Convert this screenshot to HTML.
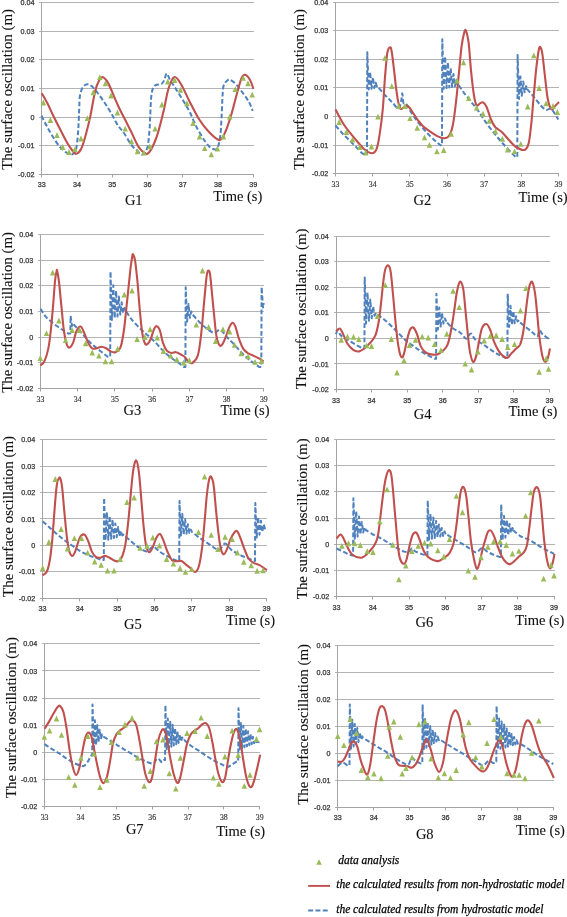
<!DOCTYPE html>
<html><head><meta charset="utf-8"><style>
html,body{margin:0;padding:0;background:#fff;width:567px;height:917px;overflow:hidden}
svg{display:block;will-change:transform;filter:blur(0.35px)}
.tk{font-family:"Liberation Sans",sans-serif;font-size:7.2px;fill:#333;stroke:#333;stroke-width:0.25px}
.tks{font-family:"Liberation Serif",serif;font-size:7.8px;fill:#333;stroke:#333;stroke-width:0.15px}
.yl{font-family:"Liberation Serif",serif;font-size:14.9px;fill:#111;stroke:#111;stroke-width:0.1px}
.gl{font-family:"Liberation Serif",serif;font-size:14.5px;fill:#111;stroke:#111;stroke-width:0.1px}
.lg{font-family:"Liberation Serif",serif;font-style:italic;font-size:11.5px;fill:#000;stroke:#000;stroke-width:0.25px}
</style></head><body>
<svg width="567" height="917" viewBox="0 0 567 917">
<line x1="39" y1="2.5" x2="254" y2="2.5" stroke="#b3b3b3" stroke-width="1"/>
<text x="34.5" y="5.1" class="tk" text-anchor="end">0.04</text>
<line x1="39" y1="31.5" x2="254" y2="31.5" stroke="#b3b3b3" stroke-width="1"/>
<text x="34.5" y="33.7" class="tk" text-anchor="end">0.03</text>
<line x1="39" y1="59.5" x2="254" y2="59.5" stroke="#b3b3b3" stroke-width="1"/>
<text x="34.5" y="62.4" class="tk" text-anchor="end">0.02</text>
<line x1="39" y1="88.5" x2="254" y2="88.5" stroke="#b3b3b3" stroke-width="1"/>
<text x="34.5" y="91" class="tk" text-anchor="end">0.01</text>
<line x1="39" y1="117.5" x2="254" y2="117.5" stroke="#b3b3b3" stroke-width="1"/>
<text x="34.5" y="119.6" class="tk" text-anchor="end">0</text>
<line x1="39" y1="145.5" x2="254" y2="145.5" stroke="#b3b3b3" stroke-width="1"/>
<text x="34.5" y="148.3" class="tk" text-anchor="end">-0.01</text>
<line x1="39" y1="174.5" x2="254" y2="174.5" stroke="#a3a3a3" stroke-width="1"/>
<text x="34.5" y="176.9" class="tk" text-anchor="end">-0.02</text>
<line x1="41.5" y1="2.5" x2="41.5" y2="177" stroke="#a3a3a3" stroke-width="1"/>
<line x1="41.5" y1="174.5" x2="41.5" y2="177.5" stroke="#a3a3a3" stroke-width="1"/>
<text x="41.8" y="187.3" class="tk" text-anchor="middle">33</text>
<line x1="77.5" y1="174.5" x2="77.5" y2="177.5" stroke="#a3a3a3" stroke-width="1"/>
<text x="77" y="187.3" class="tk" text-anchor="middle">34</text>
<line x1="112.5" y1="174.5" x2="112.5" y2="177.5" stroke="#a3a3a3" stroke-width="1"/>
<text x="112.3" y="187.3" class="tk" text-anchor="middle">35</text>
<line x1="147.5" y1="174.5" x2="147.5" y2="177.5" stroke="#a3a3a3" stroke-width="1"/>
<text x="147.5" y="187.3" class="tk" text-anchor="middle">36</text>
<line x1="182.5" y1="174.5" x2="182.5" y2="177.5" stroke="#a3a3a3" stroke-width="1"/>
<text x="182.7" y="187.3" class="tk" text-anchor="middle">37</text>
<line x1="217.5" y1="174.5" x2="217.5" y2="177.5" stroke="#a3a3a3" stroke-width="1"/>
<text x="218" y="187.3" class="tk" text-anchor="middle">38</text>
<line x1="253.5" y1="174.5" x2="253.5" y2="177.5" stroke="#a3a3a3" stroke-width="1"/>
<text x="253.2" y="187.3" class="tk" text-anchor="middle">39</text>
<text class="yl" transform="translate(11.8,169.8) rotate(-90)">The surface oscillation (m)</text>
<text class="gl" x="124.9" y="204.9">G1</text>
<path d="M41.5,115.7 C42.3,117.3 44.7,122.3 46.5,125.6 C48.3,128.9 50,132.1 52.1,135.5 C54.2,138.9 56.9,143.3 59.2,146.1 C61.6,148.9 64.1,151 66.2,152.4 C68.3,153.8 70.2,155.1 71.9,154.5 C73.6,153.9 75,152.9 76.1,148.9 C77.1,144.9 77.7,137.1 78.2,130.5 C78.7,123.9 78.9,115.3 79.2,109.4 C79.5,103.5 79.3,99.1 80,95.3 C80.7,91.5 81.9,88.6 83.1,86.8 C84.3,85 86,84.4 87.4,84.3 C88.8,84.2 89.9,84.7 91.6,86.1 C93.2,87.5 95.2,89.8 97.3,92.5 C99.4,95.2 101.9,98.8 104.3,102.3 C106.7,105.8 109.1,109.7 111.4,113.6 C113.7,117.5 115.9,122.4 118,125.6 C120.1,128.8 121.8,129.8 124,133 C126.2,136.2 129,141.8 131.2,144.7 C133.4,147.6 135.1,148.9 137,150.5 C138.9,152.1 140.8,155 142.5,154.5 C144.2,154 146.2,151.6 147.4,147.5 C148.6,143.4 149,135.2 149.5,130 C150,124.8 149.8,122.4 150.2,116.4 C150.5,110.4 150.8,99.1 151.6,93.9 C152.4,88.7 153.4,87.1 155.1,85.4 C156.8,83.8 160,84.9 161.5,84 C163,83.1 163.4,81.6 164.3,79.8 C165.2,78 165.8,73.4 166.7,73.4 C167.6,73.4 168.4,77.1 170,79.8 C171.6,82.5 174.1,86.1 176.3,89.6 C178.5,93.1 181.1,97.1 183.4,100.9 C185.7,104.7 187.8,108 190,112.5 C192.2,117 194.3,122.8 196.9,127.7 C199.5,132.6 203.1,138.5 205.4,141.8 C207.8,145.2 209.1,146.7 211,147.8 C212.9,148.9 215.5,150.5 217,148.6 C218.5,146.7 219.4,141.6 220.2,136.2 C221,130.8 221.2,123.2 221.6,116.4 C222,109.6 222.2,100.5 222.6,95.3 C222.9,90.1 222.9,87.9 223.7,85.4 C224.5,82.9 226.2,81.4 227.3,80.5 C228.4,79.6 228.6,79.1 230.1,79.8 C231.6,80.5 234.2,82.3 236.4,84.7 C238.6,87.1 241.4,91 243.5,93.9 C245.6,96.8 247.6,99.5 249.1,102.3 C250.6,105.1 252.1,109.4 252.7,110.8" fill="none" stroke="#4F81BD" stroke-width="2" stroke-dasharray="4.8,2.4" stroke-linejoin="round"/>
<path d="M41.8,93.2 C42.7,94.8 45.4,99.4 47.3,103 C49.1,106.6 50.8,110.7 52.9,115 C55,119.3 57.6,124.5 60,129.1 C62.4,133.7 64.9,138.8 67,142.5 C69.1,146.2 71.2,149.1 72.7,151 C74.2,152.9 74.8,154.2 76.2,153.8 C77.6,153.5 79.6,151.8 81.1,148.9 C82.6,146 83.9,141.6 85.4,136.2 C86.9,130.8 88.7,123.9 90.3,116.4 C91.9,108.9 93.7,97.1 95.2,91 C96.7,84.9 98.2,82.1 99.5,79.8 C100.8,77.5 101.6,76.7 103,77.2 C104.4,77.7 106.1,79.6 107.9,82.6 C109.7,85.6 111.8,91.2 113.6,95.3 C115.4,99.4 116.9,103.3 118.8,107.3 C120.7,111.3 122.7,114.9 124.9,119.3 C127.1,123.7 129.7,128.7 132,133.4 C134.3,138.1 136.4,144.1 139,147.5 C141.6,150.9 144.7,155.2 147.5,153.8 C150.3,152.4 153.3,145.7 155.9,139 C158.5,132.3 160.9,122.1 163,113.6 C165.1,105.1 166.7,94.3 168.6,88.2 C170.5,82.1 172.5,77.6 174.6,77 C176.7,76.4 178.9,80.7 181.3,84.7 C183.8,88.7 186.3,95.1 189.3,100.9 C192.3,106.7 195.8,114.1 199.1,119.3 C202.4,124.5 205.6,128.5 209,132 C212.4,135.5 216.8,140.3 219.6,140.1 C222.4,139.8 223.9,134.9 225.9,130.5 C227.9,126.1 229.7,119.9 231.6,113.6 C233.5,107.3 235.6,98.4 237.2,92.5 C238.9,86.6 240.2,81.2 241.5,78.3 C242.8,75.3 243.6,74.5 245,74.8 C246.4,75 248.5,77.4 249.9,79.8 C251.3,82.2 252.9,87.4 253.5,88.9" fill="none" stroke="#C0504D" stroke-width="2.1" stroke-linejoin="round"/>
<path d="M43.4,99.6 l2.75,5.9 h-5.5z" fill="#9BBB59"/>
<path d="M50.4,117 l2.75,5.9 h-5.5z" fill="#9BBB59"/>
<path d="M57,132.1 l2.75,5.9 h-5.5z" fill="#9BBB59"/>
<path d="M62.7,144.1 l2.75,5.9 h-5.5z" fill="#9BBB59"/>
<path d="M69,149 l2.75,5.9 h-5.5z" fill="#9BBB59"/>
<path d="M75,146.2 l2.75,5.9 h-5.5z" fill="#9BBB59"/>
<path d="M81,135.6 l2.75,5.9 h-5.5z" fill="#9BBB59"/>
<path d="M87.4,115.2 l2.75,5.9 h-5.5z" fill="#9BBB59"/>
<path d="M93.3,89.3 l2.75,5.9 h-5.5z" fill="#9BBB59"/>
<path d="M99.8,74.2 l2.75,5.9 h-5.5z" fill="#9BBB59"/>
<path d="M105.4,80.3 l2.75,5.9 h-5.5z" fill="#9BBB59"/>
<path d="M111.1,92.6 l2.75,5.9 h-5.5z" fill="#9BBB59"/>
<path d="M117.4,109.5 l2.75,5.9 h-5.5z" fill="#9BBB59"/>
<path d="M125.2,125.7 l2.75,5.9 h-5.5z" fill="#9BBB59"/>
<path d="M131.4,138.4 l2.75,5.9 h-5.5z" fill="#9BBB59"/>
<path d="M137.5,148.3 l2.75,5.9 h-5.5z" fill="#9BBB59"/>
<path d="M143.9,149.7 l2.75,5.9 h-5.5z" fill="#9BBB59"/>
<path d="M149.8,143.4 l2.75,5.9 h-5.5z" fill="#9BBB59"/>
<path d="M155.1,125.7 l2.75,5.9 h-5.5z" fill="#9BBB59"/>
<path d="M161.9,101.5 l2.75,5.9 h-5.5z" fill="#9BBB59"/>
<path d="M167.8,78.5 l2.75,5.9 h-5.5z" fill="#9BBB59"/>
<path d="M174.6,77.1 l2.75,5.9 h-5.5z" fill="#9BBB59"/>
<path d="M180.5,86.9 l2.75,5.9 h-5.5z" fill="#9BBB59"/>
<path d="M186.9,100.3 l2.75,5.9 h-5.5z" fill="#9BBB59"/>
<path d="M193,120.1 l2.75,5.9 h-5.5z" fill="#9BBB59"/>
<path d="M199.5,133.5 l2.75,5.9 h-5.5z" fill="#9BBB59"/>
<path d="M204.7,145.2 l2.75,5.9 h-5.5z" fill="#9BBB59"/>
<path d="M211.3,151.4 l2.75,5.9 h-5.5z" fill="#9BBB59"/>
<path d="M217.4,145.5 l2.75,5.9 h-5.5z" fill="#9BBB59"/>
<path d="M223.5,133.5 l2.75,5.9 h-5.5z" fill="#9BBB59"/>
<path d="M229.7,113.7 l2.75,5.9 h-5.5z" fill="#9BBB59"/>
<path d="M235.3,86.2 l2.75,5.9 h-5.5z" fill="#9BBB59"/>
<path d="M243.2,74.9 l2.75,5.9 h-5.5z" fill="#9BBB59"/>
<path d="M248,80.3 l2.75,5.9 h-5.5z" fill="#9BBB59"/>
<path d="M252.2,91.6 l2.75,5.9 h-5.5z" fill="#9BBB59"/>
<line x1="333" y1="2.5" x2="559" y2="2.5" stroke="#b3b3b3" stroke-width="1"/>
<text x="328.2" y="4.6" class="tk" text-anchor="end">0.04</text>
<line x1="333" y1="30.5" x2="559" y2="30.5" stroke="#b3b3b3" stroke-width="1"/>
<text x="328.2" y="33.2" class="tk" text-anchor="end">0.03</text>
<line x1="333" y1="59.5" x2="559" y2="59.5" stroke="#b3b3b3" stroke-width="1"/>
<text x="328.2" y="61.8" class="tk" text-anchor="end">0.02</text>
<line x1="333" y1="87.5" x2="559" y2="87.5" stroke="#b3b3b3" stroke-width="1"/>
<text x="328.2" y="90.4" class="tk" text-anchor="end">0.01</text>
<line x1="333" y1="116.5" x2="559" y2="116.5" stroke="#b3b3b3" stroke-width="1"/>
<text x="328.2" y="119" class="tk" text-anchor="end">0</text>
<line x1="333" y1="145.5" x2="559" y2="145.5" stroke="#b3b3b3" stroke-width="1"/>
<text x="328.2" y="147.6" class="tk" text-anchor="end">-0.01</text>
<line x1="333" y1="173.5" x2="559" y2="173.5" stroke="#a3a3a3" stroke-width="1"/>
<text x="328.2" y="176.2" class="tk" text-anchor="end">-0.02</text>
<line x1="335.5" y1="2.5" x2="335.5" y2="176" stroke="#a3a3a3" stroke-width="1"/>
<line x1="335.5" y1="173.5" x2="335.5" y2="176.5" stroke="#a3a3a3" stroke-width="1"/>
<text x="335.5" y="186.5" class="tks" text-anchor="middle">33</text>
<line x1="372.5" y1="173.5" x2="372.5" y2="176.5" stroke="#a3a3a3" stroke-width="1"/>
<text x="372.7" y="186.5" class="tks" text-anchor="middle">34</text>
<line x1="409.5" y1="173.5" x2="409.5" y2="176.5" stroke="#a3a3a3" stroke-width="1"/>
<text x="409.8" y="186.5" class="tks" text-anchor="middle">35</text>
<line x1="447.5" y1="173.5" x2="447.5" y2="176.5" stroke="#a3a3a3" stroke-width="1"/>
<text x="447" y="186.5" class="tks" text-anchor="middle">36</text>
<line x1="484.5" y1="173.5" x2="484.5" y2="176.5" stroke="#a3a3a3" stroke-width="1"/>
<text x="484.2" y="186.5" class="tks" text-anchor="middle">37</text>
<line x1="521.5" y1="173.5" x2="521.5" y2="176.5" stroke="#a3a3a3" stroke-width="1"/>
<text x="521.3" y="186.5" class="tks" text-anchor="middle">38</text>
<line x1="558.5" y1="173.5" x2="558.5" y2="176.5" stroke="#a3a3a3" stroke-width="1"/>
<text x="558.5" y="186.5" class="tks" text-anchor="middle">39</text>
<text class="yl" transform="translate(303.6,169.8) rotate(-90)">The surface oscillation (m)</text>
<text class="gl" x="413.5" y="204.9">G2</text>
<text class="gl" x="518.6" y="201.9">Time (s)</text>
<path d="M335.5,125.5 C336.6,126.8 340.1,130.8 342.2,133.1 C344.3,135.4 346,136.9 348.3,139.2 C350.6,141.5 353.5,144.5 355.9,146.9 C358.3,149.3 361.1,152.6 362.8,153.7 C364.5,154.8 365.3,153.7 365.8,153.7 L367,153.7 L367.3,52.2 L368.7,89.5 L370.1,71.9 L371.5,88.8 L372.9,77.3 L374.3,88 L375.7,82.6 L377.1,87.2 L378,87 C379.4,88.6 384,93.9 386.4,96.5 C388.8,99.1 390.5,100.6 392.5,102.6 C394.5,104.6 397.1,109.1 398.6,108.7 C400.1,108.3 400.7,102.5 401.3,100 C401.9,97.5 401.9,92.9 402.3,93.4 C402.7,93.9 402.8,101.2 403.5,103 C404.2,104.8 405.2,102.8 406.3,104.1 C407.4,105.4 408.4,107.9 410.2,110.8 C412,113.7 414.6,117.7 417.2,121.2 C419.8,124.7 423,128.5 425.9,131.7 C428.8,134.9 432.3,138.1 434.7,140.4 C437.1,142.7 439.5,144.5 440.5,145.3 L442,145.3 L442.3,39.2 L443.7,88.7 L445.1,56.5 L446.5,88.1 L447.9,62.3 L449.3,87.5 L450.7,68.2 L452.1,86.9 L453.5,74 L454.9,86.3 L456.3,79.9 L457.7,85.8 L459,85.5 C459.9,86.8 462.2,90.5 464.3,93.3 C466.4,96 469,99.1 471.3,102 C473.6,104.9 476,107.6 478.3,110.8 C480.6,114 482.4,117.6 485,121.2 C487.6,124.8 490.8,129 493.7,132.6 C496.6,136.2 499.5,139.7 502.4,143 C505.3,146.3 509,150.3 511.2,152.6 C513.4,154.9 515,156.3 515.8,157 L517.3,157 L517.6,54.9 L519,99 L520.4,76.4 L521.8,95.7 L523.2,81.4 L524.6,92.3 L526,86.3 L527.4,89 L527.5,88.9 L526.9,88.9 C528,90.2 531.5,94 533.8,96.8 C536.1,99.6 538.8,103.3 540.8,105.5 C542.8,107.7 544.4,109.3 546.1,109.9 C547.9,110.5 549.3,107.4 551.3,109 C553.3,110.6 557.1,117.8 558.3,119.5" fill="none" stroke="#4F81BD" stroke-width="2" stroke-dasharray="4.8,2.4" stroke-linejoin="round"/>
<path d="M335.5,109.5 C336.8,111.8 340.7,119.5 343,123.2 C345.3,126.9 346.8,128.7 349.1,131.6 C351.4,134.5 354.2,137.9 356.7,140.8 C359.2,143.7 361.8,147.1 364.3,149.2 C366.9,151.3 370,153.3 372,153.3 C374,153.3 375.2,152.3 376.5,149.2 C377.8,146.1 378.6,141.2 379.6,134.7 C380.6,128.2 381.8,119.6 382.7,110.2 C383.6,100.8 384.2,87.6 384.9,78.2 C385.7,68.8 386.4,58.9 387.2,53.7 C388,48.6 389.2,47.5 390,47.3 C390.8,47 391.1,48.3 391.8,52.2 C392.5,56.1 393.3,64.1 394.1,70.5 C394.9,76.9 395.6,84.8 396.4,90.4 C397.2,96 397.9,101 398.7,104.1 C399.5,107.2 400.1,108.5 401,109 C401.9,109.5 403,107.8 404,107.2 C405,106.6 405.9,105.5 406.8,105.5 C407.7,105.5 408.3,106.3 409.3,107.5 C410.3,108.7 411.4,110.4 412.8,112.5 C414.2,114.6 416.2,118 418,120.3 C419.8,122.6 421.3,124.6 423.3,126.5 C425.3,128.4 427.9,130.1 430.2,131.7 C432.5,133.3 434.9,135 437.2,136.1 C439.5,137.2 442.2,138.5 444.2,138.3 C446.2,138.2 448,137.5 449.4,135.2 C450.9,132.9 451.7,130.8 452.9,124.7 C454.1,118.6 455.4,107.2 456.4,98.5 C457.4,89.8 458.1,81.1 459,72.4 C459.9,63.7 460.7,52.9 461.6,46.2 C462.5,39.5 463.6,34.8 464.3,32.2 C465,29.6 465.3,29.1 466,30.8 C466.7,32.5 467.7,35.8 468.6,42.7 C469.5,49.6 470.3,63.7 471.2,72.4 C472.1,81.1 473,89.5 473.9,95 C474.8,100.5 475.5,103.8 476.5,105.2 C477.5,106.6 478.9,103.9 480,103.4 C481.1,102.9 482.1,101.8 483.2,102.4 C484.3,103.1 485.4,104.5 486.7,107.3 C488,110.1 489.6,116.2 491,119.5 C492.4,122.8 493.7,125.3 495.4,127.3 C497.2,129.3 499.3,129.7 501.5,131.7 C503.7,133.7 506.2,137 508.5,139.5 C510.8,142 512.8,144.8 515.4,146.5 C518,148.2 522,150.4 524.2,150 C526.4,149.6 527.3,148.1 528.5,143.9 C529.7,139.7 530.3,132.8 531.2,124.7 C532.1,116.5 532.9,104.6 533.8,95 C534.7,85.4 535.5,74.8 536.4,67.1 C537.3,59.4 538.3,52 539,48.8 C539.7,45.6 540.2,46.9 540.8,47.9 C541.4,48.9 541.8,50 542.5,54.9 C543.2,59.8 544.2,70.3 545.1,77.6 C546,84.9 546.7,93.3 547.7,98.5 C548.7,103.7 550,107.7 551.2,109 C552.4,110.3 553.4,107.6 554.7,106.4 C556,105.2 558.3,102.7 559,102" fill="none" stroke="#C0504D" stroke-width="2.1" stroke-linejoin="round"/>
<path d="M339.1,119 l2.75,5.9 h-5.5z" fill="#9BBB59"/>
<path d="M346.4,129 l2.75,5.9 h-5.5z" fill="#9BBB59"/>
<path d="M352.5,136.6 l2.75,5.9 h-5.5z" fill="#9BBB59"/>
<path d="M359.7,144.2 l2.75,5.9 h-5.5z" fill="#9BBB59"/>
<path d="M365.8,149.6 l2.75,5.9 h-5.5z" fill="#9BBB59"/>
<path d="M371.5,143.5 l2.75,5.9 h-5.5z" fill="#9BBB59"/>
<path d="M378,113.7 l2.75,5.9 h-5.5z" fill="#9BBB59"/>
<path d="M384.9,54.9 l2.75,5.9 h-5.5z" fill="#9BBB59"/>
<path d="M391.8,83.2 l2.75,5.9 h-5.5z" fill="#9BBB59"/>
<path d="M398.6,103 l2.75,5.9 h-5.5z" fill="#9BBB59"/>
<path d="M404.8,103 l2.75,5.9 h-5.5z" fill="#9BBB59"/>
<path d="M410.1,115.2 l2.75,5.9 h-5.5z" fill="#9BBB59"/>
<path d="M417.2,124.8 l2.75,5.9 h-5.5z" fill="#9BBB59"/>
<path d="M424.5,134.4 l2.75,5.9 h-5.5z" fill="#9BBB59"/>
<path d="M429.4,141.9 l2.75,5.9 h-5.5z" fill="#9BBB59"/>
<path d="M436.9,148.4 l2.75,5.9 h-5.5z" fill="#9BBB59"/>
<path d="M443.7,147.1 l2.75,5.9 h-5.5z" fill="#9BBB59"/>
<path d="M451.2,130.9 l2.75,5.9 h-5.5z" fill="#9BBB59"/>
<path d="M457,77.7 l2.75,5.9 h-5.5z" fill="#9BBB59"/>
<path d="M463.5,59.4 l2.75,5.9 h-5.5z" fill="#9BBB59"/>
<path d="M468.7,95.1 l2.75,5.9 h-5.5z" fill="#9BBB59"/>
<path d="M476.6,104.7 l2.75,5.9 h-5.5z" fill="#9BBB59"/>
<path d="M483,110.8 l2.75,5.9 h-5.5z" fill="#9BBB59"/>
<path d="M489.3,117.8 l2.75,5.9 h-5.5z" fill="#9BBB59"/>
<path d="M495.5,128.3 l2.75,5.9 h-5.5z" fill="#9BBB59"/>
<path d="M502.4,135.8 l2.75,5.9 h-5.5z" fill="#9BBB59"/>
<path d="M507.7,146.6 l2.75,5.9 h-5.5z" fill="#9BBB59"/>
<path d="M514.6,148.4 l2.75,5.9 h-5.5z" fill="#9BBB59"/>
<path d="M520.8,140.9 l2.75,5.9 h-5.5z" fill="#9BBB59"/>
<path d="M527.7,103.5 l2.75,5.9 h-5.5z" fill="#9BBB59"/>
<path d="M533.8,52.4 l2.75,5.9 h-5.5z" fill="#9BBB59"/>
<path d="M539.1,85 l2.75,5.9 h-5.5z" fill="#9BBB59"/>
<path d="M546.1,100.4 l2.75,5.9 h-5.5z" fill="#9BBB59"/>
<path d="M553,103 l2.75,5.9 h-5.5z" fill="#9BBB59"/>
<path d="M557.4,109.1 l2.75,5.9 h-5.5z" fill="#9BBB59"/>
<line x1="38" y1="234.5" x2="264" y2="234.5" stroke="#b3b3b3" stroke-width="1"/>
<text x="33.2" y="237" class="tk" text-anchor="end">0.04</text>
<line x1="38" y1="260.5" x2="264" y2="260.5" stroke="#b3b3b3" stroke-width="1"/>
<text x="33.2" y="262.7" class="tk" text-anchor="end">0.03</text>
<line x1="38" y1="285.5" x2="264" y2="285.5" stroke="#b3b3b3" stroke-width="1"/>
<text x="33.2" y="288.3" class="tk" text-anchor="end">0.02</text>
<line x1="38" y1="311.5" x2="264" y2="311.5" stroke="#b3b3b3" stroke-width="1"/>
<text x="33.2" y="314" class="tk" text-anchor="end">0.01</text>
<line x1="38" y1="337.5" x2="264" y2="337.5" stroke="#b3b3b3" stroke-width="1"/>
<text x="33.2" y="339.7" class="tk" text-anchor="end">0</text>
<line x1="38" y1="362.5" x2="264" y2="362.5" stroke="#b3b3b3" stroke-width="1"/>
<text x="33.2" y="365.3" class="tk" text-anchor="end">-0.01</text>
<line x1="38" y1="388.5" x2="264" y2="388.5" stroke="#a3a3a3" stroke-width="1"/>
<text x="33.2" y="391" class="tk" text-anchor="end">-0.02</text>
<line x1="40.5" y1="234.5" x2="40.5" y2="391" stroke="#a3a3a3" stroke-width="1"/>
<line x1="40.5" y1="388.5" x2="40.5" y2="391.5" stroke="#a3a3a3" stroke-width="1"/>
<text x="40.5" y="401.8" class="tks" text-anchor="middle">33</text>
<line x1="77.5" y1="388.5" x2="77.5" y2="391.5" stroke="#a3a3a3" stroke-width="1"/>
<text x="77.7" y="401.8" class="tks" text-anchor="middle">34</text>
<line x1="114.5" y1="388.5" x2="114.5" y2="391.5" stroke="#a3a3a3" stroke-width="1"/>
<text x="114.9" y="401.8" class="tks" text-anchor="middle">35</text>
<line x1="152.5" y1="388.5" x2="152.5" y2="391.5" stroke="#a3a3a3" stroke-width="1"/>
<text x="152.2" y="401.8" class="tks" text-anchor="middle">36</text>
<line x1="189.5" y1="388.5" x2="189.5" y2="391.5" stroke="#a3a3a3" stroke-width="1"/>
<text x="189.4" y="401.8" class="tks" text-anchor="middle">37</text>
<line x1="226.5" y1="388.5" x2="226.5" y2="391.5" stroke="#a3a3a3" stroke-width="1"/>
<text x="226.6" y="401.8" class="tks" text-anchor="middle">38</text>
<line x1="263.5" y1="388.5" x2="263.5" y2="391.5" stroke="#a3a3a3" stroke-width="1"/>
<text x="263.8" y="401.8" class="tks" text-anchor="middle">39</text>
<text class="yl" transform="translate(11.8,392.8) rotate(-90)">The surface oscillation (m)</text>
<text class="gl" x="123.5" y="415.4">G3</text>
<text class="gl" x="220.5" y="415">Time (s)</text>
<path d="M40.5,308.8 C41.4,310.1 43.5,314.1 45.7,316.6 C47.9,319.1 50.9,321.5 53.5,323.6 C56.1,325.7 58.8,327.3 61.2,329 C63.7,330.7 67,332.8 68.2,333.6 L70.3,333.6 L70.6,315.8 L72,326 L73.4,323.2 L74.8,325.9 L75,325.9 C76.3,327.3 80.3,331.6 82.9,334.4 C85.5,337.2 87.8,340.2 90.6,342.9 C93.4,345.6 97.1,348.4 99.9,350.7 C102.8,353 106.4,355.8 107.7,356.8 L110.2,356.8 L110.5,271.4 L111.9,319.9 L113.3,285.3 L114.7,318.2 L116.1,290.9 L117.5,316.4 L118.9,296.6 L120.3,314.6 L121.7,302.3 L123.1,312.8 L124.5,308 L125.9,311.1 L126,311 C126.9,312.3 129,316.2 131.2,318.9 C133.4,321.6 136.4,324.8 139,327.4 C141.6,330 144.1,332.1 146.7,334.4 C149.3,336.7 151.9,338.8 154.5,341.4 C157.1,344 159.6,347.3 162.2,349.9 C164.8,352.5 167.3,354.7 169.9,356.8 C172.5,358.9 175.4,360.6 177.7,362.3 C180,364 182.9,366.1 183.9,366.9 L185.4,366.9 L185.7,287.2 L187.1,321.6 L188.5,304.1 L189.9,317.8 L191.3,311.4 L192.4,314.3 C193.4,315.4 196.3,318.9 198.6,321.2 C200.9,323.5 203.7,326.3 206.3,328.2 C208.9,330.1 211.8,332.6 214.1,332.8 C216.4,333.1 218.2,329.1 220.3,329.7 C222.4,330.3 224.2,334.2 226.5,336.7 C228.8,339.2 231.6,341.8 234.2,344.5 C236.8,347.2 239.3,350.4 241.9,353 C244.5,355.6 246.8,357.7 249.7,360 C252.5,362.3 257.4,365.8 259,366.9 L261.3,366.9 L261.6,287 L263,307.5 L263.8,303" fill="none" stroke="#4F81BD" stroke-width="2" stroke-dasharray="4.8,2.4" stroke-linejoin="round"/>
<path d="M40.5,365.4 C41.1,364.8 43,364.2 44.3,361.5 C45.6,358.8 47.1,354.3 48.2,349.1 C49.3,343.9 50,338 50.8,330.5 C51.6,323 52.5,312.7 53.2,304.2 C53.9,295.7 54.6,284.8 55.2,279.4 C55.8,273.9 56.3,273 56.6,271.5 C56.9,270 56.7,268.9 57.1,270.5 C57.5,272.1 58.2,275.4 58.9,281 C59.6,286.6 60.4,296.5 61.2,304.2 C62,311.9 62.7,321.2 63.5,327.4 C64.3,333.6 65,338 65.9,341.4 C66.8,344.8 67.8,347.4 69,347.6 C70.2,347.9 71.8,345.6 73,342.9 C74.2,340.2 75.1,334 76.4,331.3 C77.6,328.6 79.2,326.2 80.6,326.6 C82,327 83.2,330.9 84.5,333.6 C85.8,336.3 87,340.4 88.3,342.9 C89.6,345.3 90.8,347.4 92.2,348.3 C93.6,349.2 95.2,348.6 96.8,348.3 C98.3,348.1 100,346.8 101.5,346.8 C103,346.8 104.5,347.5 106.1,348.3 C107.6,349.1 109.2,350.8 110.8,351.4 C112.3,352 113.8,352.8 115.4,352.2 C117,351.6 119,351.2 120.4,347.6 C121.8,344 122.8,338.2 123.9,330.5 C125,322.8 126,311.2 127.1,301.1 C128.2,291 129.5,277.4 130.3,270.1 C131.1,262.8 131.7,260.1 132.1,257.5 C132.5,254.9 132.5,253.8 133,254.3 C133.5,254.9 134.4,256.4 135.1,260.8 C135.8,265.2 136.6,273 137.4,281 C138.2,289 138.9,300.3 139.7,308.8 C140.5,317.3 141.3,326.6 142.1,332.1 C142.9,337.7 143.6,340 144.4,342.1 C145.2,344.2 145.6,345 146.7,344.5 C147.8,344 149.5,341.6 150.7,339 C151.9,336.4 153.1,331.1 154.1,329 C155.2,326.9 155.8,325.9 156.8,326.2 C157.8,326.4 158.9,327.7 159.9,330.5 C160.9,333.3 161.8,339.5 163,342.9 C164.2,346.3 165.4,349 166.8,350.7 C168.2,352.4 169.9,352.8 171.5,353 C173.1,353.2 174.5,351.9 176.1,352.2 C177.7,352.4 179.4,353.7 180.8,354.5 C182.2,355.3 183.3,355.6 184.6,356.8 C185.9,358 187.2,360.5 188.5,361.5 C189.8,362.5 190.8,364 192.4,363 C194,362 196.4,360.2 197.9,355.3 C199.4,350.4 200.2,342.6 201.2,333.6 C202.3,324.6 203.3,310.5 204.2,301.1 C205.1,291.7 205.9,282.2 206.5,277.1 C207.1,272 207.4,271.2 208,270.7 C208.6,270.2 209.4,270.7 210,274 C210.6,277.3 211,283.5 211.7,290.3 C212.4,297.1 213.3,307.4 214.1,315 C214.9,322.6 215.5,330.9 216.4,335.9 C217.3,340.9 218.5,343.8 219.5,345.2 C220.5,346.6 221.2,345.9 222.2,344.5 C223.3,343.1 224.6,339.6 225.8,336.7 C227,333.8 228.1,329.7 229.2,327.4 C230.4,325.1 231.5,322.8 232.6,322.8 C233.7,322.8 234.7,324.8 235.7,327.4 C236.7,330 237.5,334.7 238.8,338.3 C240.1,341.9 241.8,346.5 243.5,349.1 C245.2,351.7 247.1,352.5 248.9,353.7 C250.7,354.9 252.6,355.3 254.3,356.1 C256,356.9 257.4,357.5 259,358.4 C260.6,359.3 262.8,361 263.6,361.5" fill="none" stroke="#C0504D" stroke-width="2.1" stroke-linejoin="round"/>
<path d="M40.3,355 l2.75,5.9 h-5.5z" fill="#9BBB59"/>
<path d="M46.5,330.2 l2.75,5.9 h-5.5z" fill="#9BBB59"/>
<path d="M52.7,269.5 l2.75,5.9 h-5.5z" fill="#9BBB59"/>
<path d="M58.9,317.5 l2.75,5.9 h-5.5z" fill="#9BBB59"/>
<path d="M65.6,337.2 l2.75,5.9 h-5.5z" fill="#9BBB59"/>
<path d="M72.1,327.1 l2.75,5.9 h-5.5z" fill="#9BBB59"/>
<path d="M79.5,327.1 l2.75,5.9 h-5.5z" fill="#9BBB59"/>
<path d="M85.7,340.3 l2.75,5.9 h-5.5z" fill="#9BBB59"/>
<path d="M92.2,349.6 l2.75,5.9 h-5.5z" fill="#9BBB59"/>
<path d="M98.9,352.7 l2.75,5.9 h-5.5z" fill="#9BBB59"/>
<path d="M105.4,358.4 l2.75,5.9 h-5.5z" fill="#9BBB59"/>
<path d="M111.6,358.4 l2.75,5.9 h-5.5z" fill="#9BBB59"/>
<path d="M117.7,345.7 l2.75,5.9 h-5.5z" fill="#9BBB59"/>
<path d="M124.3,291.5 l2.75,5.9 h-5.5z" fill="#9BBB59"/>
<path d="M132,287.6 l2.75,5.9 h-5.5z" fill="#9BBB59"/>
<path d="M137.1,336.1 l2.75,5.9 h-5.5z" fill="#9BBB59"/>
<path d="M144.9,334.1 l2.75,5.9 h-5.5z" fill="#9BBB59"/>
<path d="M150.1,326.3 l2.75,5.9 h-5.5z" fill="#9BBB59"/>
<path d="M157.2,334.6 l2.75,5.9 h-5.5z" fill="#9BBB59"/>
<path d="M163.4,348 l2.75,5.9 h-5.5z" fill="#9BBB59"/>
<path d="M170.7,352.7 l2.75,5.9 h-5.5z" fill="#9BBB59"/>
<path d="M176.9,356.5 l2.75,5.9 h-5.5z" fill="#9BBB59"/>
<path d="M183.6,359.6 l2.75,5.9 h-5.5z" fill="#9BBB59"/>
<path d="M189.3,357.3 l2.75,5.9 h-5.5z" fill="#9BBB59"/>
<path d="M196.3,321.7 l2.75,5.9 h-5.5z" fill="#9BBB59"/>
<path d="M202.5,267.5 l2.75,5.9 h-5.5z" fill="#9BBB59"/>
<path d="M208.6,324 l2.75,5.9 h-5.5z" fill="#9BBB59"/>
<path d="M215.6,338 l2.75,5.9 h-5.5z" fill="#9BBB59"/>
<path d="M223,326.3 l2.75,5.9 h-5.5z" fill="#9BBB59"/>
<path d="M229.6,328.7 l2.75,5.9 h-5.5z" fill="#9BBB59"/>
<path d="M234.5,341.8 l2.75,5.9 h-5.5z" fill="#9BBB59"/>
<path d="M241.2,350.3 l2.75,5.9 h-5.5z" fill="#9BBB59"/>
<path d="M248.1,353.4 l2.75,5.9 h-5.5z" fill="#9BBB59"/>
<path d="M255.1,358.9 l2.75,5.9 h-5.5z" fill="#9BBB59"/>
<path d="M261.3,358.1 l2.75,5.9 h-5.5z" fill="#9BBB59"/>
<line x1="334" y1="236.5" x2="550" y2="236.5" stroke="#b3b3b3" stroke-width="1"/>
<text x="328.7" y="238.8" class="tk" text-anchor="end">0.04</text>
<line x1="334" y1="261.5" x2="550" y2="261.5" stroke="#b3b3b3" stroke-width="1"/>
<text x="328.7" y="264.3" class="tk" text-anchor="end">0.03</text>
<line x1="334" y1="287.5" x2="550" y2="287.5" stroke="#b3b3b3" stroke-width="1"/>
<text x="328.7" y="289.9" class="tk" text-anchor="end">0.02</text>
<line x1="334" y1="312.5" x2="550" y2="312.5" stroke="#b3b3b3" stroke-width="1"/>
<text x="328.7" y="315.4" class="tk" text-anchor="end">0.01</text>
<line x1="334" y1="338.5" x2="550" y2="338.5" stroke="#b3b3b3" stroke-width="1"/>
<text x="328.7" y="340.9" class="tk" text-anchor="end">0</text>
<line x1="334" y1="363.5" x2="550" y2="363.5" stroke="#b3b3b3" stroke-width="1"/>
<text x="328.7" y="366.5" class="tk" text-anchor="end">-0.01</text>
<line x1="334" y1="389.5" x2="550" y2="389.5" stroke="#a3a3a3" stroke-width="1"/>
<text x="328.7" y="392" class="tk" text-anchor="end">-0.02</text>
<line x1="336.5" y1="236.5" x2="336.5" y2="392" stroke="#a3a3a3" stroke-width="1"/>
<line x1="336.5" y1="389.5" x2="336.5" y2="392.5" stroke="#a3a3a3" stroke-width="1"/>
<text x="336" y="402.7" class="tk" text-anchor="middle">33</text>
<line x1="371.5" y1="389.5" x2="371.5" y2="392.5" stroke="#a3a3a3" stroke-width="1"/>
<text x="371.6" y="402.7" class="tk" text-anchor="middle">34</text>
<line x1="407.5" y1="389.5" x2="407.5" y2="392.5" stroke="#a3a3a3" stroke-width="1"/>
<text x="407.2" y="402.7" class="tk" text-anchor="middle">35</text>
<line x1="442.5" y1="389.5" x2="442.5" y2="392.5" stroke="#a3a3a3" stroke-width="1"/>
<text x="442.8" y="402.7" class="tk" text-anchor="middle">36</text>
<line x1="478.5" y1="389.5" x2="478.5" y2="392.5" stroke="#a3a3a3" stroke-width="1"/>
<text x="478.3" y="402.7" class="tk" text-anchor="middle">37</text>
<line x1="513.5" y1="389.5" x2="513.5" y2="392.5" stroke="#a3a3a3" stroke-width="1"/>
<text x="513.9" y="402.7" class="tk" text-anchor="middle">38</text>
<line x1="549.5" y1="389.5" x2="549.5" y2="392.5" stroke="#a3a3a3" stroke-width="1"/>
<text x="549.5" y="402.7" class="tk" text-anchor="middle">39</text>
<text class="yl" transform="translate(306.1,389.3) rotate(-90)">The surface oscillation (m)</text>
<text class="gl" x="413.8" y="418.8">G4</text>
<text class="gl" x="508.4" y="416.2">Time (s)</text>
<path d="M336,334.2 C336.2,333.6 336.9,330.6 337.5,330.5 C338.1,330.4 338.8,332.5 339.5,333.5 C340.2,334.5 340.4,335.2 342,336.4 C343.6,337.6 346.9,339.4 349.4,340.9 C351.9,342.4 354.6,344.1 356.9,345.4 C359.1,346.6 361.9,347.9 362.9,348.4 L364.4,348.4 L364.7,277.4 L366.1,323.4 L367.5,292.6 L368.9,320.8 L370.3,299.4 L371.7,318.3 L373.1,306.2 L374.5,315.7 L375.9,313 L376.3,314 C377.6,314.9 381.3,317.2 383.8,319.2 C386.3,321.2 388.8,323.6 391.3,326 C393.8,328.4 396.2,330.9 398.7,333.4 C401.2,335.9 403.9,338.9 406.2,340.9 C408.5,342.9 410.2,343.8 412.5,345.4 C414.8,347 417.4,349 419.9,350.6 C422.4,352.2 424.9,353.7 427.4,355.1 C429.9,356.5 433.6,358.2 434.9,358.8 L436.1,358.8 L436.4,293.8 L437.8,329.6 L439.2,307.5 L440.6,326.6 L442,312.9 L443.4,323.5 L444.8,318.4 L446,320.7 L445.3,320.7 C446.6,321.9 450.3,326.2 452.8,328.2 C455.3,330.2 458.1,330.9 460.3,332.7 C462.6,334.4 464.6,338.6 466.3,338.7 C468,338.8 469.2,333.3 470.7,333.4 C472.2,333.5 473.1,337.5 475.2,339.4 C477.3,341.3 480.9,342.9 483.5,344.6 C486.1,346.4 488.4,348.3 490.9,349.9 C493.4,351.5 495.9,353 498.4,354.4 C500.9,355.8 504.6,357.5 505.9,358.1 L507.4,358.1 L507.7,293.8 L509.1,326.9 L510.5,305.8 L511.9,325 L513.3,311 L514.7,323.2 L516.1,316.2 L517.5,321.4 L518.5,320.7 L517.8,320.7 C519,321.7 522.8,324.7 525.3,326.7 C527.8,328.7 530.8,331.1 532.8,332.7 C534.8,334.3 536.2,336.8 537.3,336.4 C538.4,336 538.6,330.9 539.5,330.5 C540.4,330.1 540.8,332.7 542.5,334.2 C544.2,335.7 548.3,338.5 549.5,339.4" fill="none" stroke="#4F81BD" stroke-width="2" stroke-dasharray="4.8,2.4" stroke-linejoin="round"/>
<path d="M336,331.2 C336.6,330.8 338.7,328.1 339.8,328.5 C340.9,328.9 341.6,330.9 342.8,333.4 C344,335.8 345.5,340.4 347.2,343.2 C348.9,345.9 351.2,348.5 353.2,349.9 C355.2,351.3 357.2,351.8 359.2,351.4 C361.2,351 363.2,349.2 365.2,347.6 C367.2,346 369.5,343.8 371.2,341.7 C372.9,339.6 374.4,338.1 375.6,334.9 C376.8,331.6 377.7,327.3 378.6,322.2 C379.5,317.1 380.2,310.8 380.9,304.3 C381.7,297.8 382.4,289.2 383.1,283.4 C383.8,277.5 384.4,272.2 385.3,269.2 C386.2,266.2 387.4,265.1 388.3,265.5 C389.2,265.9 389.9,266.9 390.6,271.4 C391.4,275.9 392.1,284.7 392.8,292.4 C393.6,300.1 394.4,310.1 395.1,317.8 C395.9,325.5 396.6,333 397.3,338.7 C398,344.4 398.8,349 399.5,352.1 C400.2,355.2 401.1,357.1 401.8,357.3 C402.6,357.6 403.1,356.5 404,353.6 C404.9,350.8 406,344.2 407,340.2 C408,336.2 408.9,331.8 410,329.7 C411.1,327.6 412.1,326.8 413.3,327.5 C414.5,328.2 415.8,331.1 417,334.2 C418.2,337.3 419.3,343.1 420.7,346.1 C422.1,349.1 423.4,350.7 425.2,352.1 C426.9,353.5 429.2,354 431.2,354.4 C433.2,354.8 435.2,355 437.2,354.4 C439.2,353.8 441.5,352.2 443.2,350.6 C444.9,349 446.4,347.6 447.6,344.6 C448.8,341.6 449.6,337.7 450.6,332.7 C451.6,327.7 452.6,321.3 453.6,314.8 C454.6,308.3 455.7,298.9 456.6,293.8 C457.5,288.7 458.1,286.1 458.8,284.1 C459.5,282.1 460.1,281 460.8,281.9 C461.6,282.8 462.5,284.4 463.3,289.4 C464.1,294.4 464.9,304.3 465.6,311.8 C466.4,319.3 467.1,327.5 467.8,334.2 C468.5,340.9 469.1,347.5 470,352.1 C470.9,356.7 472,361.1 473,361.8 C474,362.6 475,360 476,356.6 C477,353.2 478,346.4 479,341.7 C480,337 480.8,331.1 482,328.2 C483.2,325.2 484.9,323.8 486.3,324 C487.7,324.2 488.9,326.8 490.2,329.7 C491.5,332.6 492.6,338.2 494,341.7 C495.4,345.2 497,348.2 498.5,350.6 C500,353 501.4,354.7 502.9,355.9 C504.4,357.1 506,358.2 507.4,357.8 C508.8,357.4 509.8,355.1 511.2,353.6 C512.6,352.2 514.1,350.6 515.6,349.1 C517.1,347.6 518.8,347.3 520.1,344.6 C521.3,341.9 522.2,337.7 523.1,332.7 C524,327.7 524.6,320.8 525.4,314.8 C526.1,308.8 526.9,301.8 527.6,296.8 C528.3,291.8 529,287.3 529.8,284.9 C530.6,282.5 531.5,280.7 532.4,282.2 C533.3,283.7 534.3,288.4 535.1,293.8 C535.9,299.2 536.5,307.3 537.3,314.8 C538,322.3 538.7,331.7 539.6,338.7 C540.5,345.7 541.6,352.8 542.5,356.6 C543.4,360.5 544.3,361.6 545.2,361.8 C546.1,362.1 547,360.3 547.8,358.1 C548.6,355.9 549.6,350 550,348.4" fill="none" stroke="#C0504D" stroke-width="2.1" stroke-linejoin="round"/>
<path d="M341.2,336.8 l2.75,5.9 h-5.5z" fill="#9BBB59"/>
<path d="M347.5,333.5 l2.75,5.9 h-5.5z" fill="#9BBB59"/>
<path d="M353.5,333.8 l2.75,5.9 h-5.5z" fill="#9BBB59"/>
<path d="M358.8,336 l2.75,5.9 h-5.5z" fill="#9BBB59"/>
<path d="M366.6,342.4 l2.75,5.9 h-5.5z" fill="#9BBB59"/>
<path d="M371.5,343 l2.75,5.9 h-5.5z" fill="#9BBB59"/>
<path d="M377.5,313.2 l2.75,5.9 h-5.5z" fill="#9BBB59"/>
<path d="M385.3,282.2 l2.75,5.9 h-5.5z" fill="#9BBB59"/>
<path d="M391.3,336 l2.75,5.9 h-5.5z" fill="#9BBB59"/>
<path d="M397,369.6 l2.75,5.9 h-5.5z" fill="#9BBB59"/>
<path d="M404,357.4 l2.75,5.9 h-5.5z" fill="#9BBB59"/>
<path d="M409.5,342 l2.75,5.9 h-5.5z" fill="#9BBB59"/>
<path d="M415.5,336.8 l2.75,5.9 h-5.5z" fill="#9BBB59"/>
<path d="M422.2,333.5 l2.75,5.9 h-5.5z" fill="#9BBB59"/>
<path d="M428.2,334.5 l2.75,5.9 h-5.5z" fill="#9BBB59"/>
<path d="M434.6,341.2 l2.75,5.9 h-5.5z" fill="#9BBB59"/>
<path d="M440.9,347.2 l2.75,5.9 h-5.5z" fill="#9BBB59"/>
<path d="M446.8,330.8 l2.75,5.9 h-5.5z" fill="#9BBB59"/>
<path d="M453.1,287.9 l2.75,5.9 h-5.5z" fill="#9BBB59"/>
<path d="M459.2,304.2 l2.75,5.9 h-5.5z" fill="#9BBB59"/>
<path d="M465.2,360.7 l2.75,5.9 h-5.5z" fill="#9BBB59"/>
<path d="M471.5,366.6 l2.75,5.9 h-5.5z" fill="#9BBB59"/>
<path d="M477.9,348.7 l2.75,5.9 h-5.5z" fill="#9BBB59"/>
<path d="M484.2,337.5 l2.75,5.9 h-5.5z" fill="#9BBB59"/>
<path d="M490.2,333 l2.75,5.9 h-5.5z" fill="#9BBB59"/>
<path d="M496.2,332.3 l2.75,5.9 h-5.5z" fill="#9BBB59"/>
<path d="M502.1,336 l2.75,5.9 h-5.5z" fill="#9BBB59"/>
<path d="M507.7,344.2 l2.75,5.9 h-5.5z" fill="#9BBB59"/>
<path d="M514.5,341.2 l2.75,5.9 h-5.5z" fill="#9BBB59"/>
<path d="M520.5,307.6 l2.75,5.9 h-5.5z" fill="#9BBB59"/>
<path d="M526,285.2 l2.75,5.9 h-5.5z" fill="#9BBB59"/>
<path d="M539.1,368.9 l2.75,5.9 h-5.5z" fill="#9BBB59"/>
<path d="M546.2,355.4 l2.75,5.9 h-5.5z" fill="#9BBB59"/>
<path d="M548.5,365.9 l2.75,5.9 h-5.5z" fill="#9BBB59"/>
<line x1="40" y1="439.5" x2="267" y2="439.5" stroke="#b3b3b3" stroke-width="1"/>
<text x="35.2" y="442.2" class="tk" text-anchor="end">0.04</text>
<line x1="40" y1="466.5" x2="267" y2="466.5" stroke="#b3b3b3" stroke-width="1"/>
<text x="35.2" y="468.7" class="tk" text-anchor="end">0.03</text>
<line x1="40" y1="492.5" x2="267" y2="492.5" stroke="#b3b3b3" stroke-width="1"/>
<text x="35.2" y="495.1" class="tk" text-anchor="end">0.02</text>
<line x1="40" y1="518.5" x2="267" y2="518.5" stroke="#b3b3b3" stroke-width="1"/>
<text x="35.2" y="521.6" class="tk" text-anchor="end">0.01</text>
<line x1="40" y1="545.5" x2="267" y2="545.5" stroke="#b3b3b3" stroke-width="1"/>
<text x="35.2" y="548" class="tk" text-anchor="end">0</text>
<line x1="40" y1="571.5" x2="267" y2="571.5" stroke="#b3b3b3" stroke-width="1"/>
<text x="35.2" y="574.4" class="tk" text-anchor="end">-0.01</text>
<line x1="40" y1="598.5" x2="267" y2="598.5" stroke="#a3a3a3" stroke-width="1"/>
<text x="35.2" y="600.9" class="tk" text-anchor="end">-0.02</text>
<line x1="42.5" y1="439.5" x2="42.5" y2="601" stroke="#a3a3a3" stroke-width="1"/>
<line x1="42.5" y1="598.5" x2="42.5" y2="601.5" stroke="#a3a3a3" stroke-width="1"/>
<text x="42.5" y="611.2" class="tk" text-anchor="middle">33</text>
<line x1="79.5" y1="598.5" x2="79.5" y2="601.5" stroke="#a3a3a3" stroke-width="1"/>
<text x="79.8" y="611.2" class="tk" text-anchor="middle">34</text>
<line x1="117.5" y1="598.5" x2="117.5" y2="601.5" stroke="#a3a3a3" stroke-width="1"/>
<text x="117.2" y="611.2" class="tk" text-anchor="middle">35</text>
<line x1="154.5" y1="598.5" x2="154.5" y2="601.5" stroke="#a3a3a3" stroke-width="1"/>
<text x="154.5" y="611.2" class="tk" text-anchor="middle">36</text>
<line x1="191.5" y1="598.5" x2="191.5" y2="601.5" stroke="#a3a3a3" stroke-width="1"/>
<text x="191.8" y="611.2" class="tk" text-anchor="middle">37</text>
<line x1="229.5" y1="598.5" x2="229.5" y2="601.5" stroke="#a3a3a3" stroke-width="1"/>
<text x="229.2" y="611.2" class="tk" text-anchor="middle">38</text>
<line x1="266.5" y1="598.5" x2="266.5" y2="601.5" stroke="#a3a3a3" stroke-width="1"/>
<text x="266.5" y="611.2" class="tk" text-anchor="middle">39</text>
<text class="yl" transform="translate(12.8,596.9) rotate(-90)">The surface oscillation (m)</text>
<text class="gl" x="124.1" y="628.6">G5</text>
<text class="gl" x="226" y="625">Time (s)</text>
<path d="M42.7,521.4 C43.8,522.4 46.9,525.1 49.2,527.2 C51.6,529.3 54.3,531.8 56.8,534 C59.3,536.2 61.9,538.3 64.4,540.2 C67,542.1 69.5,543.7 72.1,545.5 C74.6,547.3 77.2,549.3 79.7,550.8 C82.2,552.3 84.8,553.6 87.3,554.7 C89.8,555.9 92.6,556.8 95,557.7 C97.4,558.6 100.7,559.6 101.8,560 L103.8,560 L104.1,497.8 L105.5,540.5 L106.9,512.1 L108.3,539.7 L109.7,515.9 L111.1,538.8 L112.5,519.6 L113.9,538 L115.3,523.4 L116.7,537.2 L118.1,527.1 L119.5,536.3 L120.9,530.9 L122.3,535.5 L123.7,534.6 L124,535 C125.2,536 128.5,539.1 131,541.2 C133.5,543.3 136.3,545.8 138.9,547.5 C141.5,549.2 144.4,551.6 146.8,551.5 C149.2,551.4 151,546.7 153.1,546.7 C155.2,546.7 157,549.9 159.4,551.5 C161.8,553.1 164.7,554.8 167.3,556.2 C170,557.7 173.6,559.5 175.3,560.2 C177.1,560.9 177.4,560.5 177.8,560.5 L179.2,560.5 L179.5,500.9 L180.9,535.5 L182.3,513.8 L183.7,534.6 L185.1,519.1 L186.5,533.7 L187.9,524.3 L189.3,532.8 L190.7,529.6 L192,532 C193.3,533 196.9,536 199.8,538 C202.7,540 206.1,542.3 209.3,544.3 C212.5,546.3 216.2,550 218.8,549.9 C221.4,549.8 223,543.6 225.1,543.6 C227.2,543.6 228.8,547.9 231.4,549.9 C234,551.9 238,553.9 240.9,555.4 C243.8,556.9 246.7,557.7 248.8,558.6 C250.9,559.5 252.8,560.6 253.6,561 L255,561 L255.3,503 L256.7,537.4 L258.1,517 L259.5,534.7 L260.9,520.7 L262.3,532 L263.7,524.3 L265.1,529.3 L266.5,528 L266.5,528" fill="none" stroke="#4F81BD" stroke-width="2" stroke-dasharray="4.8,2.4" stroke-linejoin="round"/>
<path d="M42.5,575.3 C43.2,574.7 45.6,574.2 46.9,571.5 C48.1,568.8 49.1,564.6 50,559.2 C50.9,553.9 51.5,547.5 52.3,539.4 C53,531.3 53.8,519.5 54.5,510.4 C55.2,501.3 56.1,490.3 56.8,485 C57.5,479.7 58.2,479.6 58.8,478.5 C59.4,477.4 59.7,476.7 60.3,478.3 C60.9,479.9 61.5,482.1 62.2,488 C62.9,493.9 63.7,505.3 64.5,513.4 C65.3,521.4 66,530.2 66.8,536.3 C67.5,542.4 68.1,546.8 69,550.1 C69.9,553.4 71.1,555.6 72.1,555.9 C73.1,556.1 73.9,554.6 75.2,551.6 C76.5,548.6 78.2,540.8 79.7,537.9 C81.2,535 82.9,534 84.3,534.5 C85.7,535 86.8,538 88.1,540.9 C89.4,543.8 90.6,548.9 91.9,551.6 C93.2,554.3 94.4,555.9 95.8,556.9 C97.2,557.9 98.8,557.9 100.3,557.7 C101.8,557.5 103.4,555.9 104.9,555.9 C106.4,555.9 108,556.9 109.5,557.7 C111,558.5 112.6,559.9 114.1,560.5 C115.6,561.1 117.3,561.8 118.7,561.1 C120.1,560.4 121.2,559.1 122.3,556.2 C123.4,553.3 124.5,549.9 125.5,543.6 C126.5,537.3 127.7,527 128.6,518.3 C129.5,509.6 130.2,499.6 131,491.4 C131.8,483.2 132.5,474.3 133.4,469.2 C134.3,464.1 135.3,460 136.2,460.5 C137.1,461 138.1,465.9 138.9,472.4 C139.8,478.9 140.5,490.3 141.3,499.3 C142.1,508.3 142.8,518.6 143.6,526.2 C144.4,533.8 145.1,540.8 146,545.1 C146.9,549.4 148.2,551.7 149.2,552.2 C150.3,552.7 151.1,550.7 152.3,548.3 C153.5,545.9 155,540.4 156.3,538 C157.6,535.6 158.7,533.7 159.9,534.1 C161.1,534.5 162.2,537.5 163.4,540.4 C164.7,543.3 165.9,548.2 167.4,551.5 C168.9,554.8 170.5,558.6 172.1,560.2 C173.7,561.8 175.2,561.2 176.8,561.3 C178.4,561.4 180,560.4 181.6,561 C183.2,561.6 185,563.9 186.3,564.9 C187.6,565.9 188,566.1 189.5,567.3 C191,568.5 193.5,572.3 195.1,572 C196.7,571.7 197.8,569.9 199,565.7 C200.2,561.5 201.3,554.1 202.2,546.7 C203.1,539.3 203.8,530.1 204.6,521.4 C205.4,512.7 206.1,501.6 206.9,494.5 C207.7,487.4 208.6,481.6 209.3,478.7 C210.1,475.8 210.7,476.1 211.4,477.1 C212.1,478.2 212.9,480.2 213.6,485 C214.3,489.8 214.9,498.2 215.6,505.6 C216.3,513 217.2,522.4 218,529.3 C218.8,536.1 219.5,542.5 220.4,546.7 C221.3,550.9 222.4,553.8 223.5,554.3 C224.6,554.8 225.5,552.5 226.7,549.9 C227.9,547.3 229.1,542 230.7,538.8 C232.3,535.6 234.6,531.2 236.2,530.9 C237.8,530.6 238.8,534.3 240.1,537.2 C241.4,540.1 242.8,544.9 244.1,548.3 C245.4,551.7 246.7,555.4 248.1,557.8 C249.6,560.2 251,561.3 252.8,562.5 C254.6,563.7 257.2,564 259.1,564.9 C261,565.8 262.6,567.2 263.9,568.1 C265.2,569 266.5,569.8 267,570.1" fill="none" stroke="#C0504D" stroke-width="2.1" stroke-linejoin="round"/>
<path d="M42.7,565 l2.75,5.9 h-5.5z" fill="#9BBB59"/>
<path d="M48.9,539 l2.75,5.9 h-5.5z" fill="#9BBB59"/>
<path d="M55.3,476.1 l2.75,5.9 h-5.5z" fill="#9BBB59"/>
<path d="M61.1,526.1 l2.75,5.9 h-5.5z" fill="#9BBB59"/>
<path d="M67.5,545.5 l2.75,5.9 h-5.5z" fill="#9BBB59"/>
<path d="M74.4,535.2 l2.75,5.9 h-5.5z" fill="#9BBB59"/>
<path d="M81.5,535.2 l2.75,5.9 h-5.5z" fill="#9BBB59"/>
<path d="M87.6,549.7 l2.75,5.9 h-5.5z" fill="#9BBB59"/>
<path d="M94.7,558.6 l2.75,5.9 h-5.5z" fill="#9BBB59"/>
<path d="M101.1,561.9 l2.75,5.9 h-5.5z" fill="#9BBB59"/>
<path d="M107.5,567.7 l2.75,5.9 h-5.5z" fill="#9BBB59"/>
<path d="M114,567.7 l2.75,5.9 h-5.5z" fill="#9BBB59"/>
<path d="M120.2,556 l2.75,5.9 h-5.5z" fill="#9BBB59"/>
<path d="M127,499 l2.75,5.9 h-5.5z" fill="#9BBB59"/>
<path d="M134.1,494.6 l2.75,5.9 h-5.5z" fill="#9BBB59"/>
<path d="M140.1,544.9 l2.75,5.9 h-5.5z" fill="#9BBB59"/>
<path d="M147.1,543 l2.75,5.9 h-5.5z" fill="#9BBB59"/>
<path d="M152.8,534.6 l2.75,5.9 h-5.5z" fill="#9BBB59"/>
<path d="M159.4,542.5 l2.75,5.9 h-5.5z" fill="#9BBB59"/>
<path d="M166.6,556 l2.75,5.9 h-5.5z" fill="#9BBB59"/>
<path d="M173.4,560.7 l2.75,5.9 h-5.5z" fill="#9BBB59"/>
<path d="M180,565.1 l2.75,5.9 h-5.5z" fill="#9BBB59"/>
<path d="M185.5,568.9 l2.75,5.9 h-5.5z" fill="#9BBB59"/>
<path d="M191.6,566.2 l2.75,5.9 h-5.5z" fill="#9BBB59"/>
<path d="M198.5,529.1 l2.75,5.9 h-5.5z" fill="#9BBB59"/>
<path d="M204.6,473.7 l2.75,5.9 h-5.5z" fill="#9BBB59"/>
<path d="M211.2,531.9 l2.75,5.9 h-5.5z" fill="#9BBB59"/>
<path d="M218,546.2 l2.75,5.9 h-5.5z" fill="#9BBB59"/>
<path d="M225.1,533.8 l2.75,5.9 h-5.5z" fill="#9BBB59"/>
<path d="M232.2,536.2 l2.75,5.9 h-5.5z" fill="#9BBB59"/>
<path d="M237.4,549.6 l2.75,5.9 h-5.5z" fill="#9BBB59"/>
<path d="M243.8,558.8 l2.75,5.9 h-5.5z" fill="#9BBB59"/>
<path d="M251.2,562.3 l2.75,5.9 h-5.5z" fill="#9BBB59"/>
<path d="M257.1,567.8 l2.75,5.9 h-5.5z" fill="#9BBB59"/>
<path d="M263.1,567.3 l2.75,5.9 h-5.5z" fill="#9BBB59"/>
<line x1="334" y1="439.5" x2="555" y2="439.5" stroke="#b3b3b3" stroke-width="1"/>
<text x="329.2" y="442.1" class="tk" text-anchor="end">0.04</text>
<line x1="334" y1="465.5" x2="555" y2="465.5" stroke="#b3b3b3" stroke-width="1"/>
<text x="329.2" y="468.3" class="tk" text-anchor="end">0.03</text>
<line x1="334" y1="491.5" x2="555" y2="491.5" stroke="#b3b3b3" stroke-width="1"/>
<text x="329.2" y="494.5" class="tk" text-anchor="end">0.02</text>
<line x1="334" y1="518.5" x2="555" y2="518.5" stroke="#b3b3b3" stroke-width="1"/>
<text x="329.2" y="520.7" class="tk" text-anchor="end">0.01</text>
<line x1="334" y1="544.5" x2="555" y2="544.5" stroke="#b3b3b3" stroke-width="1"/>
<text x="329.2" y="546.9" class="tk" text-anchor="end">0</text>
<line x1="334" y1="570.5" x2="555" y2="570.5" stroke="#b3b3b3" stroke-width="1"/>
<text x="329.2" y="573.1" class="tk" text-anchor="end">-0.01</text>
<line x1="334" y1="596.5" x2="555" y2="596.5" stroke="#a3a3a3" stroke-width="1"/>
<text x="329.2" y="599.3" class="tk" text-anchor="end">-0.02</text>
<line x1="336.5" y1="439.5" x2="336.5" y2="599" stroke="#a3a3a3" stroke-width="1"/>
<line x1="336.5" y1="596.5" x2="336.5" y2="599.5" stroke="#a3a3a3" stroke-width="1"/>
<text x="336.5" y="610" class="tk" text-anchor="middle">33</text>
<line x1="372.5" y1="596.5" x2="372.5" y2="599.5" stroke="#a3a3a3" stroke-width="1"/>
<text x="372.8" y="610" class="tk" text-anchor="middle">34</text>
<line x1="409.5" y1="596.5" x2="409.5" y2="599.5" stroke="#a3a3a3" stroke-width="1"/>
<text x="409" y="610" class="tk" text-anchor="middle">35</text>
<line x1="445.5" y1="596.5" x2="445.5" y2="599.5" stroke="#a3a3a3" stroke-width="1"/>
<text x="445.2" y="610" class="tk" text-anchor="middle">36</text>
<line x1="481.5" y1="596.5" x2="481.5" y2="599.5" stroke="#a3a3a3" stroke-width="1"/>
<text x="481.5" y="610" class="tk" text-anchor="middle">37</text>
<line x1="517.5" y1="596.5" x2="517.5" y2="599.5" stroke="#a3a3a3" stroke-width="1"/>
<text x="517.8" y="610" class="tk" text-anchor="middle">38</text>
<line x1="554.5" y1="596.5" x2="554.5" y2="599.5" stroke="#a3a3a3" stroke-width="1"/>
<text x="554" y="610" class="tk" text-anchor="middle">39</text>
<text class="yl" transform="translate(306.6,599.2) rotate(-90)">The surface oscillation (m)</text>
<text class="gl" x="415.6" y="627.2">G6</text>
<text class="gl" x="515.3" y="625">Time (s)</text>
<path d="M336.7,548.5 C337.8,549 341.1,550.6 343.2,551.6 C345.3,552.6 347.8,554.1 349.3,554.7 C350.8,555.3 351.6,555.3 352,555.4 L353.1,555.4 L353.4,498.2 L354.8,538.7 L356.2,511 L357.6,536.6 L359,516.4 L360.4,534.5 L361.8,521.9 L363.2,532.4 L364.6,527.3 L366,530.3 L366.1,530.2 C367.4,531 371.2,533.4 373.7,534.8 C376.2,536.2 378.8,537.2 381.3,538.6 C383.9,540 386.4,541.7 389,543.2 C391.6,544.7 394.1,546.4 396.6,547.8 C399.1,549.2 402.1,551 404.2,551.6 C406.3,552.2 407.8,552.2 409.1,551.6 C410.4,551 411.1,548.2 412.1,548.2 C413.1,548.2 413.7,550.3 415.2,551.3 C416.7,552.2 419.5,553.2 421.3,553.9 C423.1,554.6 425.1,555.1 425.8,555.4 L427.4,555.4 L427.7,500.5 L429.1,539.6 L430.5,513.9 L431.9,538.8 L433.3,517.4 L434.7,538.1 L436.1,520.9 L437.5,537.3 L438.9,524.4 L440.3,536.6 L441.7,527.9 L443.1,535.9 L444.5,531.4 L445.9,535.1 L447.2,534.8 C448.2,535.4 451,537.2 453.3,538.6 C455.6,540 458.4,541.7 461,543.2 C463.6,544.7 466.1,546.3 468.6,547.8 C471.1,549.3 474,552.4 476.2,552.4 C478.4,552.4 480.2,548.1 482,548 C483.8,547.9 485.3,550.5 487.2,551.6 C489.1,552.7 491.3,553.8 493.3,554.7 C495.3,555.6 498.4,556.5 499.4,556.9 L500.9,556.9 L501.2,504.3 L502.6,540 L504,515.9 L505.4,537.6 L506.8,519.9 L508.2,535.2 L509.6,523.9 L511,532.8 L512.4,527.9 L513.8,530.4 L514,530.2 L513.1,530.2 C514.4,531.2 518.2,534.8 520.7,536.3 C523.2,537.8 525.9,538.1 528.4,539.4 C530.9,540.7 533.5,542.5 536,544 C538.5,545.5 540.6,546.9 543.6,548.5 C546.6,550.1 552.3,553 554,553.9" fill="none" stroke="#4F81BD" stroke-width="2" stroke-dasharray="4.8,2.4" stroke-linejoin="round"/>
<path d="M336.5,538.6 C337.2,537.9 339.4,534.4 340.6,534.5 C341.9,534.6 342.8,537.2 344,539.4 C345.2,541.6 346.4,545.2 347.8,547.8 C349.2,550.3 350.3,553 352.4,554.7 C354.5,556.4 358.2,557.6 360.3,557.8 C362.4,558 363.2,557.1 364.8,556 C366.4,554.9 368,553 369.6,551.2 C371.2,549.4 373.1,547.4 374.4,545.2 C375.7,543 376.6,541 377.4,538 C378.2,535 378.6,531.6 379.2,527.2 C379.8,522.8 380.3,517.4 381,511.6 C381.7,505.8 382.6,498 383.4,492.4 C384.2,486.8 384.9,481.7 385.8,478 C386.7,474.3 387.9,470.8 388.8,470.2 C389.7,469.6 390.5,471.1 391.2,474.4 C391.9,477.7 392.4,483.8 393,490 C393.6,496.2 394.2,504.6 394.8,511.6 C395.4,518.6 396,525.6 396.6,532 C397.2,538.4 397.8,545.3 398.4,550 C399,554.7 399.6,557.7 400.5,560 C401.4,562.3 403.1,563.9 404.1,563.8 C405.1,563.7 405.7,562.2 406.6,559.2 C407.5,556.2 408.6,549.6 409.6,545.5 C410.6,541.4 411.6,537 412.7,534.8 C413.8,532.6 414.9,532 416,532.5 C417.1,533 418,535.5 419,537.9 C420,540.3 421,544.2 422.1,547 C423.2,549.8 424.4,552.7 425.9,554.7 C427.4,556.7 429.2,558.1 431.2,559.2 C433.2,560.3 435.9,561.4 438.1,561.1 C440.3,560.9 442.3,559 444.2,557.7 C446.1,556.4 448,555.4 449.5,553.1 C451,550.8 452.2,548.6 453.4,544 C454.6,539.4 455.5,532 456.4,525.6 C457.3,519.2 457.9,511.7 458.7,505.8 C459.5,499.9 460.2,493.6 461,490.5 C461.8,487.4 462.7,486.2 463.6,487.2 C464.5,488.2 465.5,491.5 466.3,496.6 C467.1,501.7 467.8,510.6 468.6,518 C469.4,525.4 470,534 470.9,540.9 C471.8,547.8 473,554.6 474,559.2 C475,563.8 475.8,567.9 476.7,568.7 C477.6,569.5 478.4,566.9 479.3,563.8 C480.2,560.7 481.4,554.2 482.4,550.1 C483.4,546 484.5,542.5 485.4,539.4 C486.3,536.3 487.1,533.3 488,531.8 C488.9,530.3 489.7,529.8 490.7,530.5 C491.7,531.2 492.9,533.5 494.1,536.3 C495.3,539 496.6,543.7 497.9,547 C499.2,550.3 500.3,553.6 501.7,556.2 C503.1,558.8 504.9,561.3 506.3,562.6 C507.7,563.9 508.7,564.4 510.1,564.1 C511.5,563.8 513.2,562.1 514.7,560.8 C516.2,559.5 517.8,557.6 519.3,556.2 C520.8,554.8 522.5,554.2 523.8,552.4 C525.1,550.6 526,549.5 526.9,545.5 C527.8,541.5 528.4,534.8 529.2,528.7 C530,522.6 530.7,515 531.5,508.9 C532.3,502.8 532.9,495.7 533.8,492.1 C534.7,488.5 536.1,486.7 537.1,487.2 C538.1,487.7 539,490 539.9,495.1 C540.8,500.2 541.4,510.1 542.2,518 C542.9,525.9 543.5,535 544.4,542.4 C545.3,549.8 546.5,558 547.5,562.3 C548.5,566.6 549.4,568.4 550.3,568.4 C551.2,568.4 552.1,564.7 552.8,562.3 C553.5,559.9 554.2,555.3 554.5,553.9" fill="none" stroke="#C0504D" stroke-width="2.1" stroke-linejoin="round"/>
<path d="M341.9,542.9 l2.75,5.9 h-5.5z" fill="#9BBB59"/>
<path d="M348.5,540.3 l2.75,5.9 h-5.5z" fill="#9BBB59"/>
<path d="M354.6,540.3 l2.75,5.9 h-5.5z" fill="#9BBB59"/>
<path d="M360.3,542.1 l2.75,5.9 h-5.5z" fill="#9BBB59"/>
<path d="M367.3,548.2 l2.75,5.9 h-5.5z" fill="#9BBB59"/>
<path d="M372.9,549 l2.75,5.9 h-5.5z" fill="#9BBB59"/>
<path d="M379.8,518.4 l2.75,5.9 h-5.5z" fill="#9BBB59"/>
<path d="M387.1,486.4 l2.75,5.9 h-5.5z" fill="#9BBB59"/>
<path d="M392.8,541.8 l2.75,5.9 h-5.5z" fill="#9BBB59"/>
<path d="M398.9,576.4 l2.75,5.9 h-5.5z" fill="#9BBB59"/>
<path d="M405.8,562.7 l2.75,5.9 h-5.5z" fill="#9BBB59"/>
<path d="M411.9,548.2 l2.75,5.9 h-5.5z" fill="#9BBB59"/>
<path d="M418.2,542.9 l2.75,5.9 h-5.5z" fill="#9BBB59"/>
<path d="M424.6,539.8 l2.75,5.9 h-5.5z" fill="#9BBB59"/>
<path d="M430.7,540.6 l2.75,5.9 h-5.5z" fill="#9BBB59"/>
<path d="M437.8,547.4 l2.75,5.9 h-5.5z" fill="#9BBB59"/>
<path d="M443.9,553.6 l2.75,5.9 h-5.5z" fill="#9BBB59"/>
<path d="M449.5,536 l2.75,5.9 h-5.5z" fill="#9BBB59"/>
<path d="M456.4,492.9 l2.75,5.9 h-5.5z" fill="#9BBB59"/>
<path d="M462.5,509.3 l2.75,5.9 h-5.5z" fill="#9BBB59"/>
<path d="M468.3,567.7 l2.75,5.9 h-5.5z" fill="#9BBB59"/>
<path d="M475,573.9 l2.75,5.9 h-5.5z" fill="#9BBB59"/>
<path d="M481.1,554.3 l2.75,5.9 h-5.5z" fill="#9BBB59"/>
<path d="M487.9,543.9 l2.75,5.9 h-5.5z" fill="#9BBB59"/>
<path d="M493.6,538.7 l2.75,5.9 h-5.5z" fill="#9BBB59"/>
<path d="M500.1,538.3 l2.75,5.9 h-5.5z" fill="#9BBB59"/>
<path d="M506.2,542.1 l2.75,5.9 h-5.5z" fill="#9BBB59"/>
<path d="M512.4,550.5 l2.75,5.9 h-5.5z" fill="#9BBB59"/>
<path d="M518.9,547.9 l2.75,5.9 h-5.5z" fill="#9BBB59"/>
<path d="M525.6,512.8 l2.75,5.9 h-5.5z" fill="#9BBB59"/>
<path d="M530.7,489.4 l2.75,5.9 h-5.5z" fill="#9BBB59"/>
<path d="M543.6,575.7 l2.75,5.9 h-5.5z" fill="#9BBB59"/>
<path d="M551,561.9 l2.75,5.9 h-5.5z" fill="#9BBB59"/>
<path d="M554,572.6 l2.75,5.9 h-5.5z" fill="#9BBB59"/>
<line x1="42" y1="643.5" x2="260" y2="643.5" stroke="#b3b3b3" stroke-width="1"/>
<text x="37.3" y="646.4" class="tk" text-anchor="end">0.04</text>
<line x1="42" y1="670.5" x2="260" y2="670.5" stroke="#b3b3b3" stroke-width="1"/>
<text x="37.3" y="673.5" class="tk" text-anchor="end">0.03</text>
<line x1="42" y1="698.5" x2="260" y2="698.5" stroke="#b3b3b3" stroke-width="1"/>
<text x="37.3" y="700.6" class="tk" text-anchor="end">0.02</text>
<line x1="42" y1="725.5" x2="260" y2="725.5" stroke="#b3b3b3" stroke-width="1"/>
<text x="37.3" y="727.7" class="tk" text-anchor="end">0.01</text>
<line x1="42" y1="752.5" x2="260" y2="752.5" stroke="#b3b3b3" stroke-width="1"/>
<text x="37.3" y="754.8" class="tk" text-anchor="end">0</text>
<line x1="42" y1="779.5" x2="260" y2="779.5" stroke="#b3b3b3" stroke-width="1"/>
<text x="37.3" y="781.9" class="tk" text-anchor="end">-0.01</text>
<line x1="42" y1="806.5" x2="260" y2="806.5" stroke="#a3a3a3" stroke-width="1"/>
<text x="37.3" y="809" class="tk" text-anchor="end">-0.02</text>
<line x1="44.5" y1="643.5" x2="44.5" y2="809" stroke="#a3a3a3" stroke-width="1"/>
<line x1="44.5" y1="806.5" x2="44.5" y2="809.5" stroke="#a3a3a3" stroke-width="1"/>
<text x="44.6" y="819.5" class="tks" text-anchor="middle">33</text>
<line x1="80.5" y1="806.5" x2="80.5" y2="809.5" stroke="#a3a3a3" stroke-width="1"/>
<text x="80.5" y="819.5" class="tks" text-anchor="middle">34</text>
<line x1="116.5" y1="806.5" x2="116.5" y2="809.5" stroke="#a3a3a3" stroke-width="1"/>
<text x="116.3" y="819.5" class="tks" text-anchor="middle">35</text>
<line x1="152.5" y1="806.5" x2="152.5" y2="809.5" stroke="#a3a3a3" stroke-width="1"/>
<text x="152.2" y="819.5" class="tks" text-anchor="middle">36</text>
<line x1="188.5" y1="806.5" x2="188.5" y2="809.5" stroke="#a3a3a3" stroke-width="1"/>
<text x="188" y="819.5" class="tks" text-anchor="middle">37</text>
<line x1="223.5" y1="806.5" x2="223.5" y2="809.5" stroke="#a3a3a3" stroke-width="1"/>
<text x="223.8" y="819.5" class="tks" text-anchor="middle">38</text>
<line x1="259.5" y1="806.5" x2="259.5" y2="809.5" stroke="#a3a3a3" stroke-width="1"/>
<text x="259.7" y="819.5" class="tks" text-anchor="middle">39</text>
<text class="yl" transform="translate(15.7,798) rotate(-90)">The surface oscillation (m)</text>
<text class="gl" x="125.9" y="833.8">G7</text>
<text class="gl" x="216.2" y="836.4">Time (s)</text>
<path d="M44.6,744 C45.7,744.8 48.8,747.1 51.2,748.6 C53.6,750.1 56.3,751.6 58.8,753.2 C61.3,754.9 63.9,756.9 66.4,758.5 C69,760.1 71.8,762 74.1,763.1 C76.4,764.2 78.5,764.9 80.2,765.4 C81.9,765.9 82.7,766.5 84,765.9 C85.3,765.3 86.6,763.3 87.8,761.6 C89,759.9 90.4,756.5 90.9,755.5 L92.2,755.5 L92.5,704.4 L93.7,748.1 L94.9,720.3 L96.1,745.1 L97.3,725 L98.5,742.1 L99.7,729.7 L100.9,739.1 L102.1,734.4 L103.1,736.4 C104.4,737.2 108.4,739.6 110.7,741 C113,742.4 115,743.6 116.8,744.8 C118.6,745.9 119.5,746.6 121.6,747.9 C123.7,749.2 126.8,750.9 129.3,752.4 C131.9,753.9 134.4,755.6 136.9,757 C139.4,758.4 141.8,759.7 144.5,760.8 C147.2,761.9 150.7,763.8 152.9,763.4 C155.1,763 156,758.7 157.5,758.5 C159,758.3 161,762.1 162.1,762.4 C163.2,762.6 163.5,760.4 163.8,760 L165.1,760 L165.4,705.1 L166.6,749.2 L167.8,718.5 L169,748 L170.2,721.7 L171.4,746.7 L172.6,724.8 L173.8,745.4 L175,728 L176.2,744.2 L177.4,731.1 L178.6,742.9 L179.8,734.2 L181,741.7 L182.2,737.4 L183.4,740.4 L184.2,740 C185.4,741 189.1,744.5 191.6,746.3 C194.1,748.1 196.8,749.2 199.3,750.9 C201.9,752.6 204.4,754.6 206.9,756.3 C209.4,757.9 211.9,759.4 214.5,760.8 C217.1,762.2 220,763.7 222.2,764.7 C224.4,765.7 225.7,767 227.5,766.9 C229.3,766.8 231.4,764.8 232.9,763.9 C234.4,763 236.1,762 236.7,761.6 L238.2,761.6 L238.5,708.2 L239.7,749.4 L240.9,723.1 L242.1,748.3 L243.3,725.8 L244.5,747.3 L245.7,728.6 L246.9,746.3 L248.1,731.3 L249.3,745.2 L250.5,734 L251.7,744.2 L252.9,736.8 L254.1,743.2 L255.3,739.5 L256.5,742.1 L257.3,741.8 C257.7,741.9 259.3,742.4 259.7,742.5" fill="none" stroke="#4F81BD" stroke-width="2" stroke-dasharray="4.8,2.4" stroke-linejoin="round"/>
<path d="M44.6,728.8 C45.3,727.6 47.4,724.4 48.9,721.9 C50.4,719.4 52.1,715.9 53.5,713.5 C54.9,711.1 56.2,708.7 57.3,707.4 C58.4,706.1 58.9,705.1 59.9,705.9 C60.9,706.7 62.3,708.3 63.4,712 C64.5,715.7 65.5,721.8 66.5,728 C67.5,734.2 68.5,743 69.5,749.4 C70.5,755.8 71.5,761.9 72.6,766.2 C73.7,770.5 75,774.8 76.1,775 C77.2,775.2 78.3,771.7 79.4,767.7 C80.5,763.7 81.5,756 82.5,750.9 C83.5,745.8 84.5,740.2 85.5,737.2 C86.5,734.2 87.6,732.6 88.6,732.6 C89.6,732.6 90.7,733.9 91.7,737.2 C92.7,740.5 93.7,747.3 94.7,752.4 C95.7,757.5 96.8,763.2 97.8,767.7 C98.8,772.2 99.8,776.7 100.8,779.2 C101.8,781.8 102.6,783.4 103.6,783 C104.6,782.6 105.8,780.5 106.9,776.9 C108,773.3 109,767.2 110,761.6 C111,756 112,747.8 113,743.3 C114,738.8 115.2,736.6 116.3,734.5 C117.4,732.4 118.3,731.8 119.8,730.5 C121.3,729.2 123.8,728.1 125.5,726.5 C127.2,724.9 128.8,722.1 130.1,721.1 C131.4,720.1 132.1,719.8 133.1,720.4 C134.1,721 135.2,722 136.2,725 C137.2,728 138.2,733.4 139.2,738.7 C140.2,744 141.3,751.1 142.3,757 C143.3,762.9 144.2,769.6 145.3,773.8 C146.5,778 148.1,781.7 149.2,782.2 C150.4,782.7 151.2,780.9 152.2,776.9 C153.2,772.9 154.3,764.6 155.3,758.5 C156.3,752.4 157.3,744.8 158.3,740.2 C159.3,735.6 160.5,732.9 161.4,731.1 C162.3,729.3 162.8,728.5 163.7,729.5 C164.6,730.5 165.7,732.9 166.7,737.2 C167.7,741.5 168.7,749.4 169.8,755.5 C171,761.6 172.3,769.2 173.6,773.8 C174.9,778.4 176.3,782.5 177.4,783 C178.5,783.5 179.4,780.5 180.4,776.9 C181.4,773.3 182.4,767 183.5,761.6 C184.6,756.2 185.7,749.2 186.8,744.8 C188,740.4 189.2,737.3 190.4,735 C191.7,732.7 193,732 194.3,730.8 C195.7,729.6 197.2,729.1 198.5,728 C199.8,726.9 201.2,725 202.4,724.2 C203.6,723.4 204.8,722.5 205.9,723.1 C207,723.7 208.1,724.9 209.2,728 C210.3,731.1 211.3,736.7 212.3,741.8 C213.3,746.9 214.3,753.2 215.3,758.5 C216.3,763.8 217.2,769.8 218.4,773.8 C219.6,777.8 221.1,781.7 222.2,782.2 C223.4,782.7 224.3,780.9 225.3,776.9 C226.3,772.9 227.3,764.4 228.3,758.5 C229.3,752.6 230.4,746.4 231.4,741.8 C232.4,737.2 233.5,733.1 234.4,731.1 C235.3,729.1 236.1,728.2 237,729.5 C237.9,730.8 238.8,734.1 239.8,738.7 C240.8,743.3 241.8,750.9 242.8,757 C243.8,763.1 244.9,770.6 245.9,775.3 C246.9,780 247.9,783.4 248.9,785.3 C249.9,787.2 250.8,787.7 251.7,786.8 C252.6,785.9 253.4,783.1 254.3,779.9 C255.2,776.7 256.3,771.9 257.3,767.7 C258.3,763.5 259.7,756.9 260.2,754.7" fill="none" stroke="#C0504D" stroke-width="2.1" stroke-linejoin="round"/>
<path d="M44.3,733.8 l2.75,5.9 h-5.5z" fill="#9BBB59"/>
<path d="M49.6,727.7 l2.75,5.9 h-5.5z" fill="#9BBB59"/>
<path d="M56.5,715.5 l2.75,5.9 h-5.5z" fill="#9BBB59"/>
<path d="M61.5,731.9 l2.75,5.9 h-5.5z" fill="#9BBB59"/>
<path d="M68.7,774.2 l2.75,5.9 h-5.5z" fill="#9BBB59"/>
<path d="M74.8,781.9 l2.75,5.9 h-5.5z" fill="#9BBB59"/>
<path d="M80.9,754.8 l2.75,5.9 h-5.5z" fill="#9BBB59"/>
<path d="M87.8,733 l2.75,5.9 h-5.5z" fill="#9BBB59"/>
<path d="M93.9,750.6 l2.75,5.9 h-5.5z" fill="#9BBB59"/>
<path d="M100,784.2 l2.75,5.9 h-5.5z" fill="#9BBB59"/>
<path d="M106.9,776.8 l2.75,5.9 h-5.5z" fill="#9BBB59"/>
<path d="M111.5,739.1 l2.75,5.9 h-5.5z" fill="#9BBB59"/>
<path d="M119.1,729.2 l2.75,5.9 h-5.5z" fill="#9BBB59"/>
<path d="M125,721.6 l2.75,5.9 h-5.5z" fill="#9BBB59"/>
<path d="M132,715.1 l2.75,5.9 h-5.5z" fill="#9BBB59"/>
<path d="M137.7,754.8 l2.75,5.9 h-5.5z" fill="#9BBB59"/>
<path d="M144.2,782.9 l2.75,5.9 h-5.5z" fill="#9BBB59"/>
<path d="M150.3,768.1 l2.75,5.9 h-5.5z" fill="#9BBB59"/>
<path d="M156.4,738.4 l2.75,5.9 h-5.5z" fill="#9BBB59"/>
<path d="M162.9,736.5 l2.75,5.9 h-5.5z" fill="#9BBB59"/>
<path d="M169.3,770.4 l2.75,5.9 h-5.5z" fill="#9BBB59"/>
<path d="M175.8,785.7 l2.75,5.9 h-5.5z" fill="#9BBB59"/>
<path d="M180.4,754.8 l2.75,5.9 h-5.5z" fill="#9BBB59"/>
<path d="M187,730 l2.75,5.9 h-5.5z" fill="#9BBB59"/>
<path d="M195,728 l2.75,5.9 h-5.5z" fill="#9BBB59"/>
<path d="M201.1,714.7 l2.75,5.9 h-5.5z" fill="#9BBB59"/>
<path d="M207.2,733 l2.75,5.9 h-5.5z" fill="#9BBB59"/>
<path d="M213.3,774.7 l2.75,5.9 h-5.5z" fill="#9BBB59"/>
<path d="M218.8,780.8 l2.75,5.9 h-5.5z" fill="#9BBB59"/>
<path d="M224.9,753.6 l2.75,5.9 h-5.5z" fill="#9BBB59"/>
<path d="M232.1,727.7 l2.75,5.9 h-5.5z" fill="#9BBB59"/>
<path d="M238.2,752.1 l2.75,5.9 h-5.5z" fill="#9BBB59"/>
<path d="M244.3,782.9 l2.75,5.9 h-5.5z" fill="#9BBB59"/>
<path d="M250,771.9 l2.75,5.9 h-5.5z" fill="#9BBB59"/>
<path d="M256.5,736.1 l2.75,5.9 h-5.5z" fill="#9BBB59"/>
<path d="M259.6,726.4 l2.75,5.9 h-5.5z" fill="#9BBB59"/>
<line x1="335" y1="645.5" x2="554" y2="645.5" stroke="#b3b3b3" stroke-width="1"/>
<text x="330.5" y="647.9" class="tk" text-anchor="end">0.04</text>
<line x1="335" y1="672.5" x2="554" y2="672.5" stroke="#b3b3b3" stroke-width="1"/>
<text x="330.5" y="674.9" class="tk" text-anchor="end">0.03</text>
<line x1="335" y1="699.5" x2="554" y2="699.5" stroke="#b3b3b3" stroke-width="1"/>
<text x="330.5" y="701.8" class="tk" text-anchor="end">0.02</text>
<line x1="335" y1="726.5" x2="554" y2="726.5" stroke="#b3b3b3" stroke-width="1"/>
<text x="330.5" y="728.8" class="tk" text-anchor="end">0.01</text>
<line x1="335" y1="753.5" x2="554" y2="753.5" stroke="#b3b3b3" stroke-width="1"/>
<text x="330.5" y="755.8" class="tk" text-anchor="end">0</text>
<line x1="335" y1="780.5" x2="554" y2="780.5" stroke="#b3b3b3" stroke-width="1"/>
<text x="330.5" y="782.7" class="tk" text-anchor="end">-0.01</text>
<line x1="335" y1="807.5" x2="554" y2="807.5" stroke="#a3a3a3" stroke-width="1"/>
<text x="330.5" y="809.7" class="tk" text-anchor="end">-0.02</text>
<line x1="337.5" y1="645.5" x2="337.5" y2="810" stroke="#a3a3a3" stroke-width="1"/>
<line x1="337.5" y1="807.5" x2="337.5" y2="810.5" stroke="#a3a3a3" stroke-width="1"/>
<text x="337.8" y="820.1" class="tk" text-anchor="middle">33</text>
<line x1="373.5" y1="807.5" x2="373.5" y2="810.5" stroke="#a3a3a3" stroke-width="1"/>
<text x="373.7" y="820.1" class="tk" text-anchor="middle">34</text>
<line x1="409.5" y1="807.5" x2="409.5" y2="810.5" stroke="#a3a3a3" stroke-width="1"/>
<text x="409.6" y="820.1" class="tk" text-anchor="middle">35</text>
<line x1="445.5" y1="807.5" x2="445.5" y2="810.5" stroke="#a3a3a3" stroke-width="1"/>
<text x="445.5" y="820.1" class="tk" text-anchor="middle">36</text>
<line x1="481.5" y1="807.5" x2="481.5" y2="810.5" stroke="#a3a3a3" stroke-width="1"/>
<text x="481.5" y="820.1" class="tk" text-anchor="middle">37</text>
<line x1="517.5" y1="807.5" x2="517.5" y2="810.5" stroke="#a3a3a3" stroke-width="1"/>
<text x="517.4" y="820.1" class="tk" text-anchor="middle">38</text>
<line x1="553.5" y1="807.5" x2="553.5" y2="810.5" stroke="#a3a3a3" stroke-width="1"/>
<text x="553.3" y="820.1" class="tk" text-anchor="middle">39</text>
<text class="yl" transform="translate(308,804.8) rotate(-90)">The surface oscillation (m)</text>
<text class="gl" x="415.9" y="839.4">G8</text>
<text class="gl" x="515.9" y="834.7">Time (s)</text>
<path d="M337.8,766.2 C338.6,765.6 341,762.5 342.6,762.4 C344.2,762.3 346.2,764.9 347.2,765.4 C348.1,765.9 348.1,765.4 348.3,765.4 L349.5,765.4 L349.8,704.4 L351.1,748.6 L352.3,719.7 L353.6,746.4 L354.8,723.9 L356.1,744.2 L357.3,728 L358.6,742 L359.8,732.2 L361.1,739.8 L362.3,736.4 L363.2,737.9 C364.6,738.8 368.9,741.6 371.6,743.3 C374.3,745 376.8,746.4 379.3,747.9 C381.9,749.4 384.4,750.8 386.9,752.4 C389.4,754 391.9,756.1 394.5,757.8 C397.1,759.5 399.9,761.2 402.2,762.4 C404.5,763.5 406.7,765.5 408.3,764.7 C409.9,763.9 410.3,758.3 411.6,757.8 C412.9,757.3 414.7,760.7 416.2,761.6 C417.7,762.5 419.9,763.1 420.7,763.4 L422.3,763.4 L422.6,704.4 L423.9,749.1 L425.1,718.9 L426.4,747.6 L427.6,722.4 L428.9,746.1 L430.1,725.9 L431.4,744.6 L432.6,729.4 L433.9,743.1 L435.1,732.9 L436.4,741.6 L437.6,736.4 L438.9,740.1 L439.8,739.5 C440.9,740.2 444.3,742.5 446.7,744 C449.1,745.5 451.8,747.1 454.3,748.6 C456.9,750.1 459.4,751.7 462,753.2 C464.6,754.7 467.1,756.3 469.6,757.8 C472.1,759.3 474.9,761.1 477.2,762.4 C479.5,763.7 481.4,765.7 483.3,765.4 C485.2,765.1 487,761.2 488.7,760.8 C490.4,760.4 492.3,763 493.3,763.1 C494.3,763.2 494.6,761.9 494.8,761.6 L496.3,761.6 L496.6,705.9 L497.9,749.5 L499.1,718.5 L500.4,748.8 L501.6,721.5 L502.9,748.1 L504.1,724.6 L505.4,747.4 L506.6,727.7 L507.9,746.6 L509.1,730.8 L510.4,745.9 L511.6,733.9 L512.9,745.2 L514.1,737 L515.4,744.4 L516.6,740.1 L517.9,743.7 L519.1,743.2 L519.2,743.3 C520.5,744.1 524.4,746.2 526.9,747.9 C529.4,749.5 532,751.6 534.5,753.2 C537,754.9 539,756 542.1,757.8 C545.2,759.6 551.4,763 553.3,764" fill="none" stroke="#4F81BD" stroke-width="2" stroke-dasharray="4.8,2.4" stroke-linejoin="round"/>
<path d="M337.8,761.6 C338.5,761.6 340.7,762.2 341.9,761.6 C343.1,761 344,759.6 345,757.8 C346,756 347,753.3 348,750.9 C349,748.5 350.1,744.8 351.1,743.3 C352.1,741.8 353.1,741.3 354.1,741.8 C355.1,742.3 356.2,743.5 357.2,746.3 C358.2,749.1 359.2,754.9 360.2,758.5 C361.2,762.1 362.1,765 363.3,767.7 C364.5,770.4 366,775.1 367.1,774.6 C368.2,774.1 369.2,769.9 370.2,764.7 C371.2,759.5 372.2,750.4 373.2,743.3 C374.2,736.2 375.3,727.6 376.3,721.9 C377.3,716.2 378.3,711.5 379.3,708.9 C380.3,706.3 381.4,705.9 382.4,706.3 C383.4,706.7 384.4,707.8 385.4,711.2 C386.4,714.6 387.5,721.1 388.5,726.5 C389.5,731.9 390.5,738.2 391.5,743.3 C392.5,748.4 393.5,753.4 394.6,757 C395.8,760.6 397,763.2 398.4,764.7 C399.8,766.2 401.5,765.6 403,765.9 C404.5,766.1 406.2,765.9 407.6,766.2 C409,766.5 410.1,768 411.4,767.7 C412.7,767.5 414.1,766.5 415.4,764.7 C416.7,762.9 418,760.1 419.3,757 C420.6,753.9 421.8,749.2 423.1,746.3 C424.4,743.4 425.6,739 426.9,739.5 C428.2,740 429.4,745.5 430.7,749.4 C432,753.3 433.1,759.3 434.5,763.1 C435.9,766.9 437.7,772 439.1,772 C440.5,772 441.6,768.4 442.9,763.1 C444.2,757.8 445.4,747.3 446.7,740.2 C448,733.1 449.4,725.1 450.5,720.4 C451.6,715.7 452.6,713.6 453.6,712 C454.6,710.4 455.3,709.8 456.3,710.9 C457.3,712 458.6,715 459.7,718.9 C460.8,722.8 461.8,729.3 462.8,734.1 C463.8,738.9 464.7,743.8 465.8,747.9 C466.9,752 468.1,755.6 469.6,758.5 C471.1,761.4 473.3,763.5 475,765.4 C476.7,767.3 478.2,769 479.6,770 C481,771 482.1,771.9 483.4,771.5 C484.7,771.1 485.9,769.9 487.2,767.7 C488.5,765.5 489.7,761.8 491,758.5 C492.3,755.2 493.5,750.9 494.8,747.9 C496.1,744.9 497.7,741.9 498.6,740.5 C499.5,739.1 499.4,738 500.2,739.5 C501,741 502.2,745.5 503.2,749.4 C504.2,753.3 505.3,759.3 506.3,763.1 C507.3,766.9 508.3,770 509.3,772.3 C510.3,774.6 511.1,777.1 512.1,776.9 C513.1,776.6 514.3,774.4 515.4,770.8 C516.5,767.2 517.5,761.1 518.5,755.5 C519.5,749.9 520.5,742.3 521.5,737.2 C522.5,732.1 523.6,727.8 524.6,725 C525.6,722.2 526.5,720.4 527.7,720.4 C528.8,720.4 530.2,722.2 531.5,725 C532.8,727.8 534,733.1 535.3,737.2 C536.6,741.3 537.8,746.1 539.1,749.4 C540.4,752.7 541.6,754.7 542.9,757 C544.2,759.3 545.4,760.8 546.7,763.1 C548,765.4 549.4,768.3 550.6,770.8 C551.8,773.3 553.3,776.8 553.8,778" fill="none" stroke="#C0504D" stroke-width="2.1" stroke-linejoin="round"/>
<path d="M337.7,733 l2.75,5.9 h-5.5z" fill="#9BBB59"/>
<path d="M343.9,742.2 l2.75,5.9 h-5.5z" fill="#9BBB59"/>
<path d="M350.3,716.2 l2.75,5.9 h-5.5z" fill="#9BBB59"/>
<path d="M356.4,730 l2.75,5.9 h-5.5z" fill="#9BBB59"/>
<path d="M361.3,767.1 l2.75,5.9 h-5.5z" fill="#9BBB59"/>
<path d="M367.8,774.2 l2.75,5.9 h-5.5z" fill="#9BBB59"/>
<path d="M373.9,770.7 l2.75,5.9 h-5.5z" fill="#9BBB59"/>
<path d="M381.1,775.3 l2.75,5.9 h-5.5z" fill="#9BBB59"/>
<path d="M387.7,752.9 l2.75,5.9 h-5.5z" fill="#9BBB59"/>
<path d="M389.2,723.9 l2.75,5.9 h-5.5z" fill="#9BBB59"/>
<path d="M393.8,718.5 l2.75,5.9 h-5.5z" fill="#9BBB59"/>
<path d="M400.3,733.8 l2.75,5.9 h-5.5z" fill="#9BBB59"/>
<path d="M402.2,770.7 l2.75,5.9 h-5.5z" fill="#9BBB59"/>
<path d="M406,765.1 l2.75,5.9 h-5.5z" fill="#9BBB59"/>
<path d="M412.1,754.4 l2.75,5.9 h-5.5z" fill="#9BBB59"/>
<path d="M418.9,721.3 l2.75,5.9 h-5.5z" fill="#9BBB59"/>
<path d="M425,718.5 l2.75,5.9 h-5.5z" fill="#9BBB59"/>
<path d="M431.1,755.5 l2.75,5.9 h-5.5z" fill="#9BBB59"/>
<path d="M438.3,774.7 l2.75,5.9 h-5.5z" fill="#9BBB59"/>
<path d="M444.4,770.4 l2.75,5.9 h-5.5z" fill="#9BBB59"/>
<path d="M450.5,775 l2.75,5.9 h-5.5z" fill="#9BBB59"/>
<path d="M456.2,767.1 l2.75,5.9 h-5.5z" fill="#9BBB59"/>
<path d="M463.2,731.5 l2.75,5.9 h-5.5z" fill="#9BBB59"/>
<path d="M468.8,719.3 l2.75,5.9 h-5.5z" fill="#9BBB59"/>
<path d="M475.7,754.4 l2.75,5.9 h-5.5z" fill="#9BBB59"/>
<path d="M481.8,763.6 l2.75,5.9 h-5.5z" fill="#9BBB59"/>
<path d="M487,740.1 l2.75,5.9 h-5.5z" fill="#9BBB59"/>
<path d="M494,716.2 l2.75,5.9 h-5.5z" fill="#9BBB59"/>
<path d="M500.9,733.8 l2.75,5.9 h-5.5z" fill="#9BBB59"/>
<path d="M507,770.4 l2.75,5.9 h-5.5z" fill="#9BBB59"/>
<path d="M513.9,771.9 l2.75,5.9 h-5.5z" fill="#9BBB59"/>
<path d="M519.2,771.9 l2.75,5.9 h-5.5z" fill="#9BBB59"/>
<path d="M525,775.3 l2.75,5.9 h-5.5z" fill="#9BBB59"/>
<path d="M531.7,749.8 l2.75,5.9 h-5.5z" fill="#9BBB59"/>
<path d="M538.8,717.7 l2.75,5.9 h-5.5z" fill="#9BBB59"/>
<text class="gl" x="213.3" y="201">Time (s)</text>
<path d="M319,859.3 l2.8,5.5 h-5.6z" fill="#9BBB59"/>
<text class="lg" x="338.3" y="863.8">data analysis</text>
<line x1="308.2" y1="885.9" x2="330" y2="885.9" stroke="#C0504D" stroke-width="1.9"/>
<text class="lg" x="336.2" y="888.2">the calculated results from non-hydrostatic model</text>
<line x1="308.2" y1="910.6" x2="327.8" y2="910.6" stroke="#4F81BD" stroke-width="2" stroke-dasharray="4.9,2.4"/>
<text class="lg" x="336.2" y="912.6">the calculated results from hydrostatic model</text>
</svg>
</body></html>
